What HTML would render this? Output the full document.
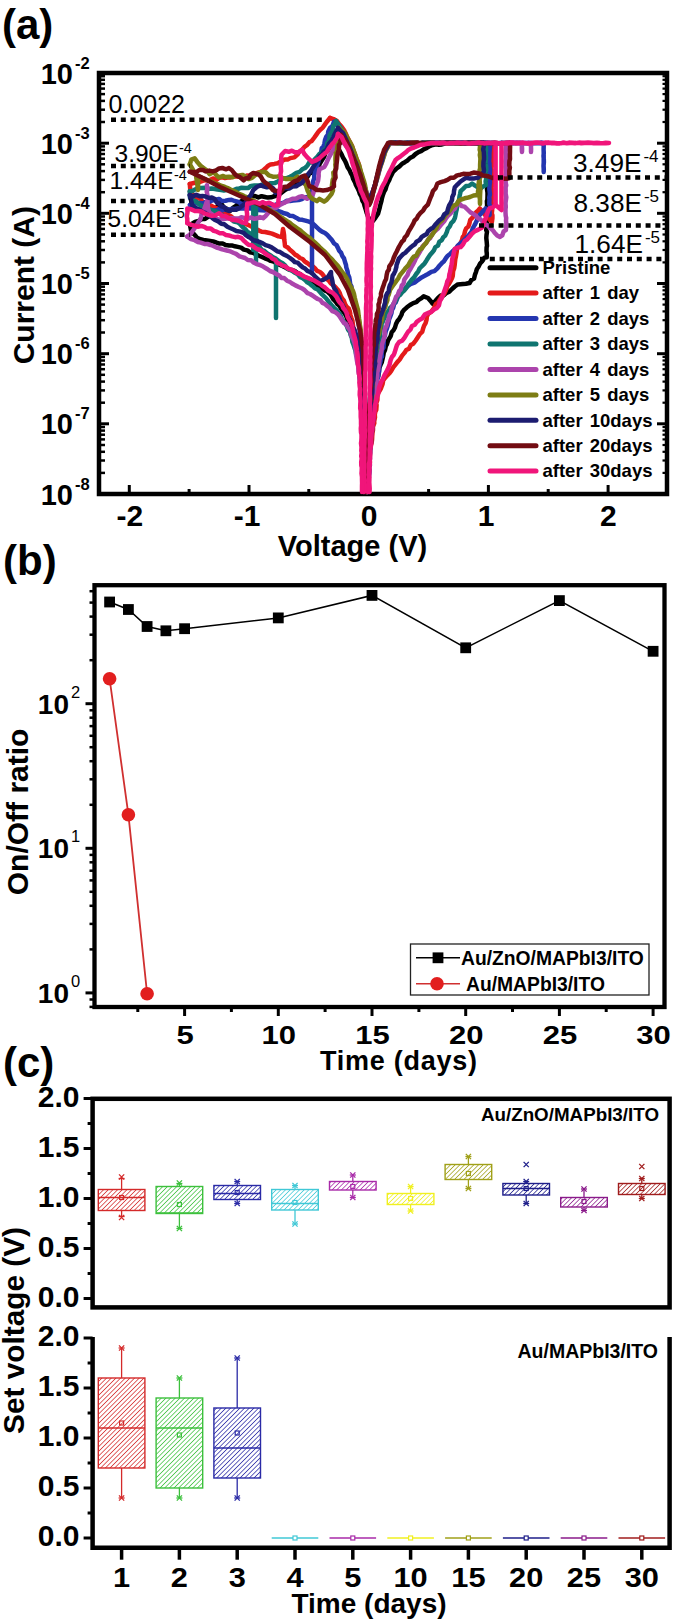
<!DOCTYPE html>
<html><head><meta charset="utf-8"><style>
html,body{margin:0;padding:0;background:#fff;width:675px;height:1622px;overflow:hidden;}
svg{display:block;}
</style></head><body>
<svg width="675" height="1622" viewBox="0 0 675 1622"><defs><pattern id="h0" patternUnits="userSpaceOnUse" width="3.3" height="3.3" patternTransform="rotate(45)"><line x1="0" y1="0" x2="0" y2="3.3" stroke="#d42a2a" stroke-width="1.45"/></pattern><pattern id="h1" patternUnits="userSpaceOnUse" width="3.3" height="3.3" patternTransform="rotate(45)"><line x1="0" y1="0" x2="0" y2="3.3" stroke="#3cc03c" stroke-width="1.45"/></pattern><pattern id="h2" patternUnits="userSpaceOnUse" width="3.3" height="3.3" patternTransform="rotate(45)"><line x1="0" y1="0" x2="0" y2="3.3" stroke="#2a2aa6" stroke-width="1.45"/></pattern><pattern id="h3" patternUnits="userSpaceOnUse" width="3.3" height="3.3" patternTransform="rotate(45)"><line x1="0" y1="0" x2="0" y2="3.3" stroke="#40c8d6" stroke-width="1.45"/></pattern><pattern id="h4" patternUnits="userSpaceOnUse" width="3.3" height="3.3" patternTransform="rotate(45)"><line x1="0" y1="0" x2="0" y2="3.3" stroke="#a82aa8" stroke-width="1.45"/></pattern><pattern id="h5" patternUnits="userSpaceOnUse" width="3.3" height="3.3" patternTransform="rotate(45)"><line x1="0" y1="0" x2="0" y2="3.3" stroke="#f0f020" stroke-width="1.45"/></pattern><pattern id="h6" patternUnits="userSpaceOnUse" width="3.3" height="3.3" patternTransform="rotate(45)"><line x1="0" y1="0" x2="0" y2="3.3" stroke="#a0a018" stroke-width="1.45"/></pattern><pattern id="h7" patternUnits="userSpaceOnUse" width="3.3" height="3.3" patternTransform="rotate(45)"><line x1="0" y1="0" x2="0" y2="3.3" stroke="#1e1e8a" stroke-width="1.45"/></pattern><pattern id="h8" patternUnits="userSpaceOnUse" width="3.3" height="3.3" patternTransform="rotate(45)"><line x1="0" y1="0" x2="0" y2="3.3" stroke="#8a1a8a" stroke-width="1.45"/></pattern><pattern id="h9" patternUnits="userSpaceOnUse" width="3.3" height="3.3" patternTransform="rotate(45)"><line x1="0" y1="0" x2="0" y2="3.3" stroke="#a01c1c" stroke-width="1.45"/></pattern></defs><rect width="675" height="1622" fill="#fff"/><text x="2.0" y="39.0" font-family="Liberation Sans" font-weight="bold" font-size="42" text-anchor="start" fill="#000" >(a)</text>
<rect x="99" y="73" width="568" height="421" fill="none" stroke="#000" stroke-width="4.5"/>
<line x1="99.0" y1="494.0" x2="109.0" y2="494.0" stroke="#000" stroke-width="3" />
<line x1="667.0" y1="494.0" x2="657.0" y2="494.0" stroke="#000" stroke-width="3" />
<text x="73.0" y="504.5" font-family="Liberation Sans" font-weight="bold" font-size="29" text-anchor="end" fill="#000" >10</text>
<text x="75.0" y="489.5" font-family="Liberation Sans" font-weight="bold" font-size="16.5" text-anchor="start" fill="#000" >-8</text>
<line x1="99.0" y1="472.9" x2="105.0" y2="472.9" stroke="#000" stroke-width="2.5" />
<line x1="667.0" y1="472.9" x2="662.5" y2="472.9" stroke="#000" stroke-width="2.2" />
<line x1="99.0" y1="460.5" x2="105.0" y2="460.5" stroke="#000" stroke-width="2.5" />
<line x1="667.0" y1="460.5" x2="662.5" y2="460.5" stroke="#000" stroke-width="2.2" />
<line x1="99.0" y1="451.8" x2="105.0" y2="451.8" stroke="#000" stroke-width="2.5" />
<line x1="667.0" y1="451.8" x2="662.5" y2="451.8" stroke="#000" stroke-width="2.2" />
<line x1="99.0" y1="445.0" x2="105.0" y2="445.0" stroke="#000" stroke-width="2.5" />
<line x1="667.0" y1="445.0" x2="662.5" y2="445.0" stroke="#000" stroke-width="2.2" />
<line x1="99.0" y1="439.4" x2="105.0" y2="439.4" stroke="#000" stroke-width="2.5" />
<line x1="667.0" y1="439.4" x2="662.5" y2="439.4" stroke="#000" stroke-width="2.2" />
<line x1="99.0" y1="434.7" x2="105.0" y2="434.7" stroke="#000" stroke-width="2.5" />
<line x1="667.0" y1="434.7" x2="662.5" y2="434.7" stroke="#000" stroke-width="2.2" />
<line x1="99.0" y1="430.6" x2="105.0" y2="430.6" stroke="#000" stroke-width="2.5" />
<line x1="667.0" y1="430.6" x2="662.5" y2="430.6" stroke="#000" stroke-width="2.2" />
<line x1="99.0" y1="427.0" x2="105.0" y2="427.0" stroke="#000" stroke-width="2.5" />
<line x1="667.0" y1="427.0" x2="662.5" y2="427.0" stroke="#000" stroke-width="2.2" />
<line x1="99.0" y1="423.8" x2="109.0" y2="423.8" stroke="#000" stroke-width="3" />
<line x1="667.0" y1="423.8" x2="657.0" y2="423.8" stroke="#000" stroke-width="3" />
<text x="73.0" y="434.3" font-family="Liberation Sans" font-weight="bold" font-size="29" text-anchor="end" fill="#000" >10</text>
<text x="75.0" y="419.3" font-family="Liberation Sans" font-weight="bold" font-size="16.5" text-anchor="start" fill="#000" >-7</text>
<line x1="99.0" y1="402.7" x2="105.0" y2="402.7" stroke="#000" stroke-width="2.5" />
<line x1="667.0" y1="402.7" x2="662.5" y2="402.7" stroke="#000" stroke-width="2.2" />
<line x1="99.0" y1="390.4" x2="105.0" y2="390.4" stroke="#000" stroke-width="2.5" />
<line x1="667.0" y1="390.4" x2="662.5" y2="390.4" stroke="#000" stroke-width="2.2" />
<line x1="99.0" y1="381.6" x2="105.0" y2="381.6" stroke="#000" stroke-width="2.5" />
<line x1="667.0" y1="381.6" x2="662.5" y2="381.6" stroke="#000" stroke-width="2.2" />
<line x1="99.0" y1="374.8" x2="105.0" y2="374.8" stroke="#000" stroke-width="2.5" />
<line x1="667.0" y1="374.8" x2="662.5" y2="374.8" stroke="#000" stroke-width="2.2" />
<line x1="99.0" y1="369.2" x2="105.0" y2="369.2" stroke="#000" stroke-width="2.5" />
<line x1="667.0" y1="369.2" x2="662.5" y2="369.2" stroke="#000" stroke-width="2.2" />
<line x1="99.0" y1="364.5" x2="105.0" y2="364.5" stroke="#000" stroke-width="2.5" />
<line x1="667.0" y1="364.5" x2="662.5" y2="364.5" stroke="#000" stroke-width="2.2" />
<line x1="99.0" y1="360.5" x2="105.0" y2="360.5" stroke="#000" stroke-width="2.5" />
<line x1="667.0" y1="360.5" x2="662.5" y2="360.5" stroke="#000" stroke-width="2.2" />
<line x1="99.0" y1="356.9" x2="105.0" y2="356.9" stroke="#000" stroke-width="2.5" />
<line x1="667.0" y1="356.9" x2="662.5" y2="356.9" stroke="#000" stroke-width="2.2" />
<line x1="99.0" y1="353.7" x2="109.0" y2="353.7" stroke="#000" stroke-width="3" />
<line x1="667.0" y1="353.7" x2="657.0" y2="353.7" stroke="#000" stroke-width="3" />
<text x="73.0" y="364.2" font-family="Liberation Sans" font-weight="bold" font-size="29" text-anchor="end" fill="#000" >10</text>
<text x="75.0" y="349.2" font-family="Liberation Sans" font-weight="bold" font-size="16.5" text-anchor="start" fill="#000" >-6</text>
<line x1="99.0" y1="332.5" x2="105.0" y2="332.5" stroke="#000" stroke-width="2.5" />
<line x1="667.0" y1="332.5" x2="662.5" y2="332.5" stroke="#000" stroke-width="2.2" />
<line x1="99.0" y1="320.2" x2="105.0" y2="320.2" stroke="#000" stroke-width="2.5" />
<line x1="667.0" y1="320.2" x2="662.5" y2="320.2" stroke="#000" stroke-width="2.2" />
<line x1="99.0" y1="311.4" x2="105.0" y2="311.4" stroke="#000" stroke-width="2.5" />
<line x1="667.0" y1="311.4" x2="662.5" y2="311.4" stroke="#000" stroke-width="2.2" />
<line x1="99.0" y1="304.6" x2="105.0" y2="304.6" stroke="#000" stroke-width="2.5" />
<line x1="667.0" y1="304.6" x2="662.5" y2="304.6" stroke="#000" stroke-width="2.2" />
<line x1="99.0" y1="299.1" x2="105.0" y2="299.1" stroke="#000" stroke-width="2.5" />
<line x1="667.0" y1="299.1" x2="662.5" y2="299.1" stroke="#000" stroke-width="2.2" />
<line x1="99.0" y1="294.4" x2="105.0" y2="294.4" stroke="#000" stroke-width="2.5" />
<line x1="667.0" y1="294.4" x2="662.5" y2="294.4" stroke="#000" stroke-width="2.2" />
<line x1="99.0" y1="290.3" x2="105.0" y2="290.3" stroke="#000" stroke-width="2.5" />
<line x1="667.0" y1="290.3" x2="662.5" y2="290.3" stroke="#000" stroke-width="2.2" />
<line x1="99.0" y1="286.7" x2="105.0" y2="286.7" stroke="#000" stroke-width="2.5" />
<line x1="667.0" y1="286.7" x2="662.5" y2="286.7" stroke="#000" stroke-width="2.2" />
<line x1="99.0" y1="283.5" x2="109.0" y2="283.5" stroke="#000" stroke-width="3" />
<line x1="667.0" y1="283.5" x2="657.0" y2="283.5" stroke="#000" stroke-width="3" />
<text x="73.0" y="294.0" font-family="Liberation Sans" font-weight="bold" font-size="29" text-anchor="end" fill="#000" >10</text>
<text x="75.0" y="279.0" font-family="Liberation Sans" font-weight="bold" font-size="16.5" text-anchor="start" fill="#000" >-5</text>
<line x1="99.0" y1="262.4" x2="105.0" y2="262.4" stroke="#000" stroke-width="2.5" />
<line x1="667.0" y1="262.4" x2="662.5" y2="262.4" stroke="#000" stroke-width="2.2" />
<line x1="99.0" y1="250.0" x2="105.0" y2="250.0" stroke="#000" stroke-width="2.5" />
<line x1="667.0" y1="250.0" x2="662.5" y2="250.0" stroke="#000" stroke-width="2.2" />
<line x1="99.0" y1="241.3" x2="105.0" y2="241.3" stroke="#000" stroke-width="2.5" />
<line x1="667.0" y1="241.3" x2="662.5" y2="241.3" stroke="#000" stroke-width="2.2" />
<line x1="99.0" y1="234.5" x2="105.0" y2="234.5" stroke="#000" stroke-width="2.5" />
<line x1="667.0" y1="234.5" x2="662.5" y2="234.5" stroke="#000" stroke-width="2.2" />
<line x1="99.0" y1="228.9" x2="105.0" y2="228.9" stroke="#000" stroke-width="2.5" />
<line x1="667.0" y1="228.9" x2="662.5" y2="228.9" stroke="#000" stroke-width="2.2" />
<line x1="99.0" y1="224.2" x2="105.0" y2="224.2" stroke="#000" stroke-width="2.5" />
<line x1="667.0" y1="224.2" x2="662.5" y2="224.2" stroke="#000" stroke-width="2.2" />
<line x1="99.0" y1="220.1" x2="105.0" y2="220.1" stroke="#000" stroke-width="2.5" />
<line x1="667.0" y1="220.1" x2="662.5" y2="220.1" stroke="#000" stroke-width="2.2" />
<line x1="99.0" y1="216.5" x2="105.0" y2="216.5" stroke="#000" stroke-width="2.5" />
<line x1="667.0" y1="216.5" x2="662.5" y2="216.5" stroke="#000" stroke-width="2.2" />
<line x1="99.0" y1="213.3" x2="109.0" y2="213.3" stroke="#000" stroke-width="3" />
<line x1="667.0" y1="213.3" x2="657.0" y2="213.3" stroke="#000" stroke-width="3" />
<text x="73.0" y="223.8" font-family="Liberation Sans" font-weight="bold" font-size="29" text-anchor="end" fill="#000" >10</text>
<text x="75.0" y="208.8" font-family="Liberation Sans" font-weight="bold" font-size="16.5" text-anchor="start" fill="#000" >-4</text>
<line x1="99.0" y1="192.2" x2="105.0" y2="192.2" stroke="#000" stroke-width="2.5" />
<line x1="667.0" y1="192.2" x2="662.5" y2="192.2" stroke="#000" stroke-width="2.2" />
<line x1="99.0" y1="179.9" x2="105.0" y2="179.9" stroke="#000" stroke-width="2.5" />
<line x1="667.0" y1="179.9" x2="662.5" y2="179.9" stroke="#000" stroke-width="2.2" />
<line x1="99.0" y1="171.1" x2="105.0" y2="171.1" stroke="#000" stroke-width="2.5" />
<line x1="667.0" y1="171.1" x2="662.5" y2="171.1" stroke="#000" stroke-width="2.2" />
<line x1="99.0" y1="164.3" x2="105.0" y2="164.3" stroke="#000" stroke-width="2.5" />
<line x1="667.0" y1="164.3" x2="662.5" y2="164.3" stroke="#000" stroke-width="2.2" />
<line x1="99.0" y1="158.7" x2="105.0" y2="158.7" stroke="#000" stroke-width="2.5" />
<line x1="667.0" y1="158.7" x2="662.5" y2="158.7" stroke="#000" stroke-width="2.2" />
<line x1="99.0" y1="154.0" x2="105.0" y2="154.0" stroke="#000" stroke-width="2.5" />
<line x1="667.0" y1="154.0" x2="662.5" y2="154.0" stroke="#000" stroke-width="2.2" />
<line x1="99.0" y1="150.0" x2="105.0" y2="150.0" stroke="#000" stroke-width="2.5" />
<line x1="667.0" y1="150.0" x2="662.5" y2="150.0" stroke="#000" stroke-width="2.2" />
<line x1="99.0" y1="146.4" x2="105.0" y2="146.4" stroke="#000" stroke-width="2.5" />
<line x1="667.0" y1="146.4" x2="662.5" y2="146.4" stroke="#000" stroke-width="2.2" />
<line x1="99.0" y1="143.2" x2="109.0" y2="143.2" stroke="#000" stroke-width="3" />
<line x1="667.0" y1="143.2" x2="657.0" y2="143.2" stroke="#000" stroke-width="3" />
<text x="73.0" y="153.7" font-family="Liberation Sans" font-weight="bold" font-size="29" text-anchor="end" fill="#000" >10</text>
<text x="75.0" y="138.7" font-family="Liberation Sans" font-weight="bold" font-size="16.5" text-anchor="start" fill="#000" >-3</text>
<line x1="99.0" y1="122.0" x2="105.0" y2="122.0" stroke="#000" stroke-width="2.5" />
<line x1="667.0" y1="122.0" x2="662.5" y2="122.0" stroke="#000" stroke-width="2.2" />
<line x1="99.0" y1="109.7" x2="105.0" y2="109.7" stroke="#000" stroke-width="2.5" />
<line x1="667.0" y1="109.7" x2="662.5" y2="109.7" stroke="#000" stroke-width="2.2" />
<line x1="99.0" y1="100.9" x2="105.0" y2="100.9" stroke="#000" stroke-width="2.5" />
<line x1="667.0" y1="100.9" x2="662.5" y2="100.9" stroke="#000" stroke-width="2.2" />
<line x1="99.0" y1="94.1" x2="105.0" y2="94.1" stroke="#000" stroke-width="2.5" />
<line x1="667.0" y1="94.1" x2="662.5" y2="94.1" stroke="#000" stroke-width="2.2" />
<line x1="99.0" y1="88.6" x2="105.0" y2="88.6" stroke="#000" stroke-width="2.5" />
<line x1="667.0" y1="88.6" x2="662.5" y2="88.6" stroke="#000" stroke-width="2.2" />
<line x1="99.0" y1="83.9" x2="105.0" y2="83.9" stroke="#000" stroke-width="2.5" />
<line x1="667.0" y1="83.9" x2="662.5" y2="83.9" stroke="#000" stroke-width="2.2" />
<line x1="99.0" y1="79.8" x2="105.0" y2="79.8" stroke="#000" stroke-width="2.5" />
<line x1="667.0" y1="79.8" x2="662.5" y2="79.8" stroke="#000" stroke-width="2.2" />
<line x1="99.0" y1="76.2" x2="105.0" y2="76.2" stroke="#000" stroke-width="2.5" />
<line x1="667.0" y1="76.2" x2="662.5" y2="76.2" stroke="#000" stroke-width="2.2" />
<line x1="99.0" y1="73.0" x2="109.0" y2="73.0" stroke="#000" stroke-width="3" />
<line x1="667.0" y1="73.0" x2="657.0" y2="73.0" stroke="#000" stroke-width="3" />
<text x="73.0" y="83.5" font-family="Liberation Sans" font-weight="bold" font-size="29" text-anchor="end" fill="#000" >10</text>
<text x="75.0" y="68.5" font-family="Liberation Sans" font-weight="bold" font-size="16.5" text-anchor="start" fill="#000" >-2</text>
<line x1="129.3" y1="494.0" x2="129.3" y2="485.0" stroke="#000" stroke-width="3" />
<line x1="189.1" y1="494.0" x2="189.1" y2="489.0" stroke="#000" stroke-width="3" />
<line x1="249.0" y1="494.0" x2="249.0" y2="485.0" stroke="#000" stroke-width="3" />
<line x1="308.8" y1="494.0" x2="308.8" y2="489.0" stroke="#000" stroke-width="3" />
<line x1="368.7" y1="494.0" x2="368.7" y2="485.0" stroke="#000" stroke-width="3" />
<line x1="428.6" y1="494.0" x2="428.6" y2="489.0" stroke="#000" stroke-width="3" />
<line x1="488.4" y1="494.0" x2="488.4" y2="485.0" stroke="#000" stroke-width="3" />
<line x1="548.2" y1="494.0" x2="548.2" y2="489.0" stroke="#000" stroke-width="3" />
<line x1="608.1" y1="494.0" x2="608.1" y2="485.0" stroke="#000" stroke-width="3" />
<text x="129.8" y="526.0" font-family="Liberation Sans" font-weight="bold" font-size="30" text-anchor="middle" fill="#000" >-2</text>
<text x="247.0" y="526.0" font-family="Liberation Sans" font-weight="bold" font-size="30" text-anchor="middle" fill="#000" >-1</text>
<text x="369.0" y="526.0" font-family="Liberation Sans" font-weight="bold" font-size="30" text-anchor="middle" fill="#000" >0</text>
<text x="486.2" y="526.0" font-family="Liberation Sans" font-weight="bold" font-size="30" text-anchor="middle" fill="#000" >1</text>
<text x="608.4" y="526.0" font-family="Liberation Sans" font-weight="bold" font-size="30" text-anchor="middle" fill="#000" >2</text>
<text x="352.5" y="555.5" font-family="Liberation Sans" font-weight="bold" font-size="29" text-anchor="middle" fill="#000" >Voltage (V)</text>
<text x="34.0" y="285.2" font-family="Liberation Sans" font-weight="bold" font-size="30" text-anchor="middle" fill="#000" transform="rotate(-90 34 285.2)">Current (A)</text>
<text x="3.0" y="575.0" font-family="Liberation Sans" font-weight="bold" font-size="42" text-anchor="start" fill="#000" >(b)</text>
<rect x="94.5" y="585.2" width="570.0" height="421.79999999999995" fill="none" stroke="#000" stroke-width="4.3"/>
<line x1="94.5" y1="992.9" x2="85.5" y2="992.9" stroke="#000" stroke-width="3" />
<text x="69.0" y="1002.9" font-family="Liberation Sans" font-weight="bold" font-size="28" text-anchor="end" fill="#000" >10</text>
<text x="71.0" y="986.9" font-family="Liberation Sans" font-size="16.5" text-anchor="start" fill="#000" >0</text>
<line x1="94.5" y1="848.3" x2="85.5" y2="848.3" stroke="#000" stroke-width="3" />
<text x="69.0" y="858.3" font-family="Liberation Sans" font-weight="bold" font-size="28" text-anchor="end" fill="#000" >10</text>
<text x="71.0" y="842.3" font-family="Liberation Sans" font-size="16.5" text-anchor="start" fill="#000" >1</text>
<line x1="94.5" y1="703.7" x2="85.5" y2="703.7" stroke="#000" stroke-width="3" />
<text x="69.0" y="713.7" font-family="Liberation Sans" font-weight="bold" font-size="28" text-anchor="end" fill="#000" >10</text>
<text x="71.0" y="697.7" font-family="Liberation Sans" font-size="16.5" text-anchor="start" fill="#000" >2</text>
<line x1="94.5" y1="1006.9" x2="89.5" y2="1006.9" stroke="#000" stroke-width="2.5" />
<line x1="94.5" y1="999.5" x2="89.5" y2="999.5" stroke="#000" stroke-width="2.5" />
<line x1="94.5" y1="949.4" x2="89.5" y2="949.4" stroke="#000" stroke-width="2.5" />
<line x1="94.5" y1="923.9" x2="89.5" y2="923.9" stroke="#000" stroke-width="2.5" />
<line x1="94.5" y1="905.8" x2="89.5" y2="905.8" stroke="#000" stroke-width="2.5" />
<line x1="94.5" y1="891.8" x2="89.5" y2="891.8" stroke="#000" stroke-width="2.5" />
<line x1="94.5" y1="880.4" x2="89.5" y2="880.4" stroke="#000" stroke-width="2.5" />
<line x1="94.5" y1="870.7" x2="89.5" y2="870.7" stroke="#000" stroke-width="2.5" />
<line x1="94.5" y1="862.3" x2="89.5" y2="862.3" stroke="#000" stroke-width="2.5" />
<line x1="94.5" y1="854.9" x2="89.5" y2="854.9" stroke="#000" stroke-width="2.5" />
<line x1="94.5" y1="804.8" x2="89.5" y2="804.8" stroke="#000" stroke-width="2.5" />
<line x1="94.5" y1="779.3" x2="89.5" y2="779.3" stroke="#000" stroke-width="2.5" />
<line x1="94.5" y1="761.2" x2="89.5" y2="761.2" stroke="#000" stroke-width="2.5" />
<line x1="94.5" y1="747.2" x2="89.5" y2="747.2" stroke="#000" stroke-width="2.5" />
<line x1="94.5" y1="735.8" x2="89.5" y2="735.8" stroke="#000" stroke-width="2.5" />
<line x1="94.5" y1="726.1" x2="89.5" y2="726.1" stroke="#000" stroke-width="2.5" />
<line x1="94.5" y1="717.7" x2="89.5" y2="717.7" stroke="#000" stroke-width="2.5" />
<line x1="94.5" y1="710.3" x2="89.5" y2="710.3" stroke="#000" stroke-width="2.5" />
<line x1="94.5" y1="660.2" x2="89.5" y2="660.2" stroke="#000" stroke-width="2.5" />
<line x1="94.5" y1="634.7" x2="89.5" y2="634.7" stroke="#000" stroke-width="2.5" />
<line x1="94.5" y1="616.6" x2="89.5" y2="616.6" stroke="#000" stroke-width="2.5" />
<line x1="94.5" y1="602.6" x2="89.5" y2="602.6" stroke="#000" stroke-width="2.5" />
<line x1="94.5" y1="591.2" x2="89.5" y2="591.2" stroke="#000" stroke-width="2.5" />
<line x1="137.8" y1="1007.0" x2="137.8" y2="1012.0" stroke="#000" stroke-width="3" />
<line x1="184.6" y1="1007.0" x2="184.6" y2="1016.0" stroke="#000" stroke-width="3" />
<line x1="231.4" y1="1007.0" x2="231.4" y2="1012.0" stroke="#000" stroke-width="3" />
<line x1="278.3" y1="1007.0" x2="278.3" y2="1016.0" stroke="#000" stroke-width="3" />
<line x1="325.1" y1="1007.0" x2="325.1" y2="1012.0" stroke="#000" stroke-width="3" />
<line x1="372.0" y1="1007.0" x2="372.0" y2="1016.0" stroke="#000" stroke-width="3" />
<line x1="418.9" y1="1007.0" x2="418.9" y2="1012.0" stroke="#000" stroke-width="3" />
<line x1="465.7" y1="1007.0" x2="465.7" y2="1016.0" stroke="#000" stroke-width="3" />
<line x1="512.5" y1="1007.0" x2="512.5" y2="1012.0" stroke="#000" stroke-width="3" />
<line x1="559.4" y1="1007.0" x2="559.4" y2="1016.0" stroke="#000" stroke-width="3" />
<line x1="606.2" y1="1007.0" x2="606.2" y2="1012.0" stroke="#000" stroke-width="3" />
<line x1="653.1" y1="1007.0" x2="653.1" y2="1016.0" stroke="#000" stroke-width="3" />
<text transform="translate(185.1 1044.0) scale(1.17 1)" font-family="Liberation Sans" font-weight="bold" font-size="26.5" text-anchor="middle">5</text>
<text transform="translate(278.8 1044.0) scale(1.17 1)" font-family="Liberation Sans" font-weight="bold" font-size="26.5" text-anchor="middle">10</text>
<text transform="translate(372.5 1044.0) scale(1.17 1)" font-family="Liberation Sans" font-weight="bold" font-size="26.5" text-anchor="middle">15</text>
<text transform="translate(466.2 1044.0) scale(1.17 1)" font-family="Liberation Sans" font-weight="bold" font-size="26.5" text-anchor="middle">20</text>
<text transform="translate(559.9 1044.0) scale(1.17 1)" font-family="Liberation Sans" font-weight="bold" font-size="26.5" text-anchor="middle">25</text>
<text transform="translate(653.6 1044.0) scale(1.17 1)" font-family="Liberation Sans" font-weight="bold" font-size="26.5" text-anchor="middle">30</text>
<text x="320.0" y="1070.0" font-family="Liberation Sans" font-weight="bold" font-size="27" text-anchor="start" fill="#000" textLength="157" lengthAdjust="spacing">Time (days)</text>
<text x="27.6" y="811.9" font-family="Liberation Sans" font-weight="bold" font-size="30" text-anchor="middle" fill="#000" transform="rotate(-90 27.6 811.9)">On/Off ratio</text>
<polyline points="109.6,602.0 128.4,609.5 147.1,626.5 165.9,630.8 184.6,628.7 278.3,617.9 372.0,595.4 465.7,647.8 559.4,600.6 653.1,651.3" fill="none" stroke="#000" stroke-width="1.5"/>
<rect x="104.2" y="596.6" width="10.8" height="10.8" fill="#000"/>
<rect x="123.0" y="604.1" width="10.8" height="10.8" fill="#000"/>
<rect x="141.7" y="621.1" width="10.8" height="10.8" fill="#000"/>
<rect x="160.5" y="625.4" width="10.8" height="10.8" fill="#000"/>
<rect x="179.2" y="623.3" width="10.8" height="10.8" fill="#000"/>
<rect x="272.9" y="612.5" width="10.8" height="10.8" fill="#000"/>
<rect x="366.6" y="590.0" width="10.8" height="10.8" fill="#000"/>
<rect x="460.3" y="642.4" width="10.8" height="10.8" fill="#000"/>
<rect x="554.0" y="595.2" width="10.8" height="10.8" fill="#000"/>
<rect x="647.7" y="645.9" width="10.8" height="10.8" fill="#000"/>
<polyline points="109.6,678.8 128.4,814.7 147.1,993.7" fill="none" stroke="#d03030" stroke-width="1.8"/>
<circle cx="109.6" cy="678.8" r="6.8" fill="#e21f1f"/>
<circle cx="128.4" cy="814.7" r="6.8" fill="#e21f1f"/>
<circle cx="147.1" cy="993.7" r="6.8" fill="#e21f1f"/>
<rect x="410.5" y="944" width="238.5" height="51" fill="#fff" stroke="#222" stroke-width="1.3"/>
<line x1="416.0" y1="957.8" x2="460.0" y2="957.8" stroke="#000" stroke-width="1.5" />
<rect x="432.6" y="952.4" width="10.8" height="10.8" fill="#000"/>
<text x="461.0" y="965.0" font-family="Liberation Sans" font-weight="bold" font-size="19.3" text-anchor="start" fill="#000" >Au/ZnO/MAPbI3/ITO</text>
<line x1="416.0" y1="983.8" x2="460.0" y2="983.8" stroke="#d03030" stroke-width="1.5" />
<circle cx="437" cy="983.8" r="6.8" fill="#e21f1f"/>
<text x="466.0" y="991.0" font-family="Liberation Sans" font-weight="bold" font-size="19.3" text-anchor="start" fill="#000" >Au/MAPbI3/ITO</text>
<text x="3.0" y="1077.0" font-family="Liberation Sans" font-weight="bold" font-size="42" text-anchor="start" fill="#000" >(c)</text>
<rect x="92.6" y="1098.8" width="577.0" height="208.60000000000014" fill="none" stroke="#000" stroke-width="4.5"/>
<polyline points="92.6,1337 92.6,1547.7 669.6,1547.7 669.6,1337" fill="none" stroke="#000" stroke-width="4.5"/>
<line x1="92.6" y1="1298.5" x2="83.6" y2="1298.5" stroke="#000" stroke-width="3" />
<line x1="92.6" y1="1273.5" x2="87.6" y2="1273.5" stroke="#000" stroke-width="3" />
<line x1="92.6" y1="1248.5" x2="83.6" y2="1248.5" stroke="#000" stroke-width="3" />
<line x1="92.6" y1="1223.5" x2="87.6" y2="1223.5" stroke="#000" stroke-width="3" />
<line x1="92.6" y1="1198.5" x2="83.6" y2="1198.5" stroke="#000" stroke-width="3" />
<line x1="92.6" y1="1173.5" x2="87.6" y2="1173.5" stroke="#000" stroke-width="3" />
<line x1="92.6" y1="1148.5" x2="83.6" y2="1148.5" stroke="#000" stroke-width="3" />
<line x1="92.6" y1="1123.5" x2="87.6" y2="1123.5" stroke="#000" stroke-width="3" />
<line x1="92.6" y1="1098.5" x2="83.6" y2="1098.5" stroke="#000" stroke-width="3" />
<text x="79.5" y="1306.5" font-family="Liberation Sans" font-weight="bold" font-size="30" text-anchor="end" fill="#000" >0.0</text>
<text x="79.5" y="1256.5" font-family="Liberation Sans" font-weight="bold" font-size="30" text-anchor="end" fill="#000" >0.5</text>
<text x="79.5" y="1206.5" font-family="Liberation Sans" font-weight="bold" font-size="30" text-anchor="end" fill="#000" >1.0</text>
<text x="79.5" y="1156.5" font-family="Liberation Sans" font-weight="bold" font-size="30" text-anchor="end" fill="#000" >1.5</text>
<text x="79.5" y="1106.5" font-family="Liberation Sans" font-weight="bold" font-size="30" text-anchor="end" fill="#000" >2.0</text>
<line x1="92.6" y1="1538.0" x2="83.6" y2="1538.0" stroke="#000" stroke-width="3" />
<line x1="92.6" y1="1513.0" x2="87.6" y2="1513.0" stroke="#000" stroke-width="3" />
<line x1="92.6" y1="1488.0" x2="83.6" y2="1488.0" stroke="#000" stroke-width="3" />
<line x1="92.6" y1="1463.0" x2="87.6" y2="1463.0" stroke="#000" stroke-width="3" />
<line x1="92.6" y1="1438.0" x2="83.6" y2="1438.0" stroke="#000" stroke-width="3" />
<line x1="92.6" y1="1413.0" x2="87.6" y2="1413.0" stroke="#000" stroke-width="3" />
<line x1="92.6" y1="1388.0" x2="83.6" y2="1388.0" stroke="#000" stroke-width="3" />
<line x1="92.6" y1="1363.0" x2="87.6" y2="1363.0" stroke="#000" stroke-width="3" />
<line x1="92.6" y1="1338.0" x2="83.6" y2="1338.0" stroke="#000" stroke-width="3" />
<text x="79.5" y="1546.0" font-family="Liberation Sans" font-weight="bold" font-size="30" text-anchor="end" fill="#000" >0.0</text>
<text x="79.5" y="1496.0" font-family="Liberation Sans" font-weight="bold" font-size="30" text-anchor="end" fill="#000" >0.5</text>
<text x="79.5" y="1446.0" font-family="Liberation Sans" font-weight="bold" font-size="30" text-anchor="end" fill="#000" >1.0</text>
<text x="79.5" y="1396.0" font-family="Liberation Sans" font-weight="bold" font-size="30" text-anchor="end" fill="#000" >1.5</text>
<text x="79.5" y="1346.0" font-family="Liberation Sans" font-weight="bold" font-size="30" text-anchor="end" fill="#000" >2.0</text>
<line x1="121.6" y1="1547.7" x2="121.6" y2="1559.7" stroke="#000" stroke-width="3.5" />
<text transform="translate(121.6 1586.5) scale(1.12 1)" font-family="Liberation Sans" font-weight="bold" font-size="27.5" text-anchor="middle">1</text>
<line x1="179.4" y1="1547.7" x2="179.4" y2="1559.7" stroke="#000" stroke-width="3.5" />
<text transform="translate(179.4 1586.5) scale(1.12 1)" font-family="Liberation Sans" font-weight="bold" font-size="27.5" text-anchor="middle">2</text>
<line x1="237.2" y1="1547.7" x2="237.2" y2="1559.7" stroke="#000" stroke-width="3.5" />
<text transform="translate(237.2 1586.5) scale(1.12 1)" font-family="Liberation Sans" font-weight="bold" font-size="27.5" text-anchor="middle">3</text>
<line x1="295.0" y1="1547.7" x2="295.0" y2="1559.7" stroke="#000" stroke-width="3.5" />
<text transform="translate(295.0 1586.5) scale(1.12 1)" font-family="Liberation Sans" font-weight="bold" font-size="27.5" text-anchor="middle">4</text>
<line x1="352.8" y1="1547.7" x2="352.8" y2="1559.7" stroke="#000" stroke-width="3.5" />
<text transform="translate(352.8 1586.5) scale(1.12 1)" font-family="Liberation Sans" font-weight="bold" font-size="27.5" text-anchor="middle">5</text>
<line x1="410.6" y1="1547.7" x2="410.6" y2="1559.7" stroke="#000" stroke-width="3.5" />
<text transform="translate(410.6 1586.5) scale(1.12 1)" font-family="Liberation Sans" font-weight="bold" font-size="27.5" text-anchor="middle">10</text>
<line x1="468.4" y1="1547.7" x2="468.4" y2="1559.7" stroke="#000" stroke-width="3.5" />
<text transform="translate(468.4 1586.5) scale(1.12 1)" font-family="Liberation Sans" font-weight="bold" font-size="27.5" text-anchor="middle">15</text>
<line x1="526.2" y1="1547.7" x2="526.2" y2="1559.7" stroke="#000" stroke-width="3.5" />
<text transform="translate(526.2 1586.5) scale(1.12 1)" font-family="Liberation Sans" font-weight="bold" font-size="27.5" text-anchor="middle">20</text>
<line x1="584.0" y1="1547.7" x2="584.0" y2="1559.7" stroke="#000" stroke-width="3.5" />
<text transform="translate(584.0 1586.5) scale(1.12 1)" font-family="Liberation Sans" font-weight="bold" font-size="27.5" text-anchor="middle">25</text>
<line x1="641.8" y1="1547.7" x2="641.8" y2="1559.7" stroke="#000" stroke-width="3.5" />
<text transform="translate(641.8 1586.5) scale(1.12 1)" font-family="Liberation Sans" font-weight="bold" font-size="27.5" text-anchor="middle">30</text>
<text x="369.0" y="1613.3" font-family="Liberation Sans" font-weight="bold" font-size="28" text-anchor="middle" fill="#000" >Time (days)</text>
<text x="24.0" y="1330.5" font-family="Liberation Sans" font-weight="bold" font-size="29.8" text-anchor="middle" fill="#000" transform="rotate(-90 24 1330.5)">Set voltage (V)</text>
<text x="659.0" y="1121.0" font-family="Liberation Sans" font-weight="bold" font-size="18.8" text-anchor="end" fill="#000" >Au/ZnO/MAPbI3/ITO</text>
<text x="658.0" y="1357.6" font-family="Liberation Sans" font-weight="bold" font-size="19.5" text-anchor="end" fill="#000" >Au/MAPbI3/ITO</text>
<line x1="121.6" y1="1178.5" x2="121.6" y2="1189.5" stroke="#d42a2a" stroke-width="1.3" />
<line x1="121.6" y1="1210.5" x2="121.6" y2="1216.5" stroke="#d42a2a" stroke-width="1.3" />
<line x1="118.6" y1="1178.5" x2="124.6" y2="1178.5" stroke="#d42a2a" stroke-width="1.3" />
<line x1="118.6" y1="1216.5" x2="124.6" y2="1216.5" stroke="#d42a2a" stroke-width="1.3" />
<rect x="98.3" y="1189.5" width="46.6" height="21.0" fill="url(#h0)" stroke="#d42a2a" stroke-width="1.4"/>
<line x1="98.3" y1="1197.5" x2="144.9" y2="1197.5" stroke="#d42a2a" stroke-width="1.4" />
<rect x="119.6" y="1195.5" width="4" height="4" fill="none" stroke="#d42a2a" stroke-width="1.2"/>
<path d="M119.0,1174.4L124.2,1179.6M124.2,1174.4L119.0,1179.6" stroke="#d42a2a" stroke-width="1.3"/>
<path d="M119.0,1214.9L124.2,1220.1M124.2,1214.9L119.0,1220.1" stroke="#d42a2a" stroke-width="1.3"/>
<line x1="179.4" y1="1183.5" x2="179.4" y2="1186.5" stroke="#3cc03c" stroke-width="1.3" />
<line x1="179.4" y1="1213.5" x2="179.4" y2="1228.5" stroke="#3cc03c" stroke-width="1.3" />
<line x1="176.4" y1="1183.5" x2="182.4" y2="1183.5" stroke="#3cc03c" stroke-width="1.3" />
<line x1="176.4" y1="1228.5" x2="182.4" y2="1228.5" stroke="#3cc03c" stroke-width="1.3" />
<rect x="156.1" y="1186.5" width="46.6" height="27.0" fill="url(#h1)" stroke="#3cc03c" stroke-width="1.4"/>
<line x1="156.1" y1="1213.0" x2="202.7" y2="1213.0" stroke="#3cc03c" stroke-width="1.4" />
<rect x="177.4" y="1202.5" width="4" height="4" fill="none" stroke="#3cc03c" stroke-width="1.2"/>
<path d="M176.8,1180.4L182.0,1185.6M182.0,1180.4L176.8,1185.6" stroke="#3cc03c" stroke-width="1.3"/>
<path d="M176.8,1225.9L182.0,1231.1M182.0,1225.9L176.8,1231.1" stroke="#3cc03c" stroke-width="1.3"/>
<line x1="237.2" y1="1181.5" x2="237.2" y2="1185.5" stroke="#2a2aa6" stroke-width="1.3" />
<line x1="237.2" y1="1199.5" x2="237.2" y2="1203.5" stroke="#2a2aa6" stroke-width="1.3" />
<line x1="234.2" y1="1181.5" x2="240.2" y2="1181.5" stroke="#2a2aa6" stroke-width="1.3" />
<line x1="234.2" y1="1203.5" x2="240.2" y2="1203.5" stroke="#2a2aa6" stroke-width="1.3" />
<rect x="213.9" y="1185.5" width="46.6" height="14.0" fill="url(#h2)" stroke="#2a2aa6" stroke-width="1.4"/>
<line x1="213.9" y1="1193.5" x2="260.5" y2="1193.5" stroke="#2a2aa6" stroke-width="1.4" />
<rect x="235.2" y="1190.5" width="4" height="4" fill="none" stroke="#2a2aa6" stroke-width="1.2"/>
<path d="M234.6,1178.9L239.8,1184.1M239.8,1178.9L234.6,1184.1" stroke="#2a2aa6" stroke-width="1.3"/>
<path d="M234.6,1200.9L239.8,1206.1M239.8,1200.9L234.6,1206.1" stroke="#2a2aa6" stroke-width="1.3"/>
<line x1="295.0" y1="1185.5" x2="295.0" y2="1189.5" stroke="#40c8d6" stroke-width="1.3" />
<line x1="295.0" y1="1210.0" x2="295.0" y2="1224.0" stroke="#40c8d6" stroke-width="1.3" />
<line x1="292.0" y1="1185.5" x2="298.0" y2="1185.5" stroke="#40c8d6" stroke-width="1.3" />
<line x1="292.0" y1="1224.0" x2="298.0" y2="1224.0" stroke="#40c8d6" stroke-width="1.3" />
<rect x="271.7" y="1189.5" width="46.6" height="20.5" fill="url(#h3)" stroke="#40c8d6" stroke-width="1.4"/>
<line x1="271.7" y1="1203.5" x2="318.3" y2="1203.5" stroke="#40c8d6" stroke-width="1.4" />
<rect x="293.0" y="1200.5" width="4" height="4" fill="none" stroke="#40c8d6" stroke-width="1.2"/>
<path d="M292.4,1182.9L297.6,1188.1M297.6,1182.9L292.4,1188.1" stroke="#40c8d6" stroke-width="1.3"/>
<path d="M292.4,1221.4L297.6,1226.6M297.6,1221.4L292.4,1226.6" stroke="#40c8d6" stroke-width="1.3"/>
<line x1="352.8" y1="1175.0" x2="352.8" y2="1181.5" stroke="#a82aa8" stroke-width="1.3" />
<line x1="352.8" y1="1190.0" x2="352.8" y2="1197.5" stroke="#a82aa8" stroke-width="1.3" />
<line x1="349.8" y1="1175.0" x2="355.8" y2="1175.0" stroke="#a82aa8" stroke-width="1.3" />
<line x1="349.8" y1="1197.5" x2="355.8" y2="1197.5" stroke="#a82aa8" stroke-width="1.3" />
<rect x="329.5" y="1181.5" width="46.6" height="8.5" fill="url(#h4)" stroke="#a82aa8" stroke-width="1.4"/>
<rect x="350.8" y="1184.5" width="4" height="4" fill="none" stroke="#a82aa8" stroke-width="1.2"/>
<path d="M350.2,1172.4L355.4,1177.6M355.4,1172.4L350.2,1177.6" stroke="#a82aa8" stroke-width="1.3"/>
<path d="M350.2,1194.9L355.4,1200.1M355.4,1194.9L350.2,1200.1" stroke="#a82aa8" stroke-width="1.3"/>
<line x1="410.6" y1="1186.5" x2="410.6" y2="1193.5" stroke="#f0f020" stroke-width="1.3" />
<line x1="410.6" y1="1204.5" x2="410.6" y2="1211.0" stroke="#f0f020" stroke-width="1.3" />
<line x1="407.6" y1="1186.5" x2="413.6" y2="1186.5" stroke="#f0f020" stroke-width="1.3" />
<line x1="407.6" y1="1211.0" x2="413.6" y2="1211.0" stroke="#f0f020" stroke-width="1.3" />
<rect x="387.3" y="1193.5" width="46.6" height="11.0" fill="url(#h5)" stroke="#f0f020" stroke-width="1.4"/>
<rect x="408.6" y="1196.5" width="4" height="4" fill="none" stroke="#f0f020" stroke-width="1.2"/>
<path d="M408.0,1183.9L413.2,1189.1M413.2,1183.9L408.0,1189.1" stroke="#f0f020" stroke-width="1.3"/>
<path d="M408.0,1208.4L413.2,1213.6M413.2,1208.4L408.0,1213.6" stroke="#f0f020" stroke-width="1.3"/>
<line x1="468.4" y1="1156.5" x2="468.4" y2="1164.5" stroke="#a0a018" stroke-width="1.3" />
<line x1="468.4" y1="1179.5" x2="468.4" y2="1188.5" stroke="#a0a018" stroke-width="1.3" />
<line x1="465.4" y1="1156.5" x2="471.4" y2="1156.5" stroke="#a0a018" stroke-width="1.3" />
<line x1="465.4" y1="1188.5" x2="471.4" y2="1188.5" stroke="#a0a018" stroke-width="1.3" />
<rect x="445.1" y="1164.5" width="46.6" height="15.0" fill="url(#h6)" stroke="#a0a018" stroke-width="1.4"/>
<rect x="466.4" y="1171.5" width="4" height="4" fill="none" stroke="#a0a018" stroke-width="1.2"/>
<path d="M465.8,1153.9L471.0,1159.1M471.0,1153.9L465.8,1159.1" stroke="#a0a018" stroke-width="1.3"/>
<path d="M465.8,1185.9L471.0,1191.1M471.0,1185.9L465.8,1191.1" stroke="#a0a018" stroke-width="1.3"/>
<line x1="526.2" y1="1181.5" x2="526.2" y2="1183.5" stroke="#1e1e8a" stroke-width="1.3" />
<line x1="526.2" y1="1195.0" x2="526.2" y2="1203.5" stroke="#1e1e8a" stroke-width="1.3" />
<line x1="523.2" y1="1181.5" x2="529.2" y2="1181.5" stroke="#1e1e8a" stroke-width="1.3" />
<line x1="523.2" y1="1203.5" x2="529.2" y2="1203.5" stroke="#1e1e8a" stroke-width="1.3" />
<rect x="502.9" y="1183.5" width="46.6" height="11.5" fill="url(#h7)" stroke="#1e1e8a" stroke-width="1.4"/>
<line x1="502.9" y1="1188.5" x2="549.5" y2="1188.5" stroke="#1e1e8a" stroke-width="1.4" />
<rect x="524.2" y="1186.5" width="4" height="4" fill="none" stroke="#1e1e8a" stroke-width="1.2"/>
<path d="M523.6,1178.9L528.8,1184.1M528.8,1178.9L523.6,1184.1" stroke="#1e1e8a" stroke-width="1.3"/>
<path d="M523.6,1200.9L528.8,1206.1M528.8,1200.9L523.6,1206.1" stroke="#1e1e8a" stroke-width="1.3"/>
<path d="M523.6,1161.9L528.8,1167.1M528.8,1161.9L523.6,1167.1" stroke="#1e1e8a" stroke-width="1.3"/>
<line x1="584.0" y1="1189.0" x2="584.0" y2="1197.5" stroke="#8a1a8a" stroke-width="1.3" />
<line x1="584.0" y1="1207.0" x2="584.0" y2="1210.5" stroke="#8a1a8a" stroke-width="1.3" />
<line x1="581.0" y1="1189.0" x2="587.0" y2="1189.0" stroke="#8a1a8a" stroke-width="1.3" />
<line x1="581.0" y1="1210.5" x2="587.0" y2="1210.5" stroke="#8a1a8a" stroke-width="1.3" />
<rect x="560.7" y="1197.5" width="46.6" height="9.5" fill="url(#h8)" stroke="#8a1a8a" stroke-width="1.4"/>
<rect x="582.0" y="1199.5" width="4" height="4" fill="none" stroke="#8a1a8a" stroke-width="1.2"/>
<path d="M581.4,1186.4L586.6,1191.6M586.6,1186.4L581.4,1191.6" stroke="#8a1a8a" stroke-width="1.3"/>
<path d="M581.4,1207.9L586.6,1213.1M586.6,1207.9L581.4,1213.1" stroke="#8a1a8a" stroke-width="1.3"/>
<line x1="641.8" y1="1178.5" x2="641.8" y2="1183.5" stroke="#a01c1c" stroke-width="1.3" />
<line x1="641.8" y1="1194.5" x2="641.8" y2="1198.5" stroke="#a01c1c" stroke-width="1.3" />
<line x1="638.8" y1="1178.5" x2="644.8" y2="1178.5" stroke="#a01c1c" stroke-width="1.3" />
<line x1="638.8" y1="1198.5" x2="644.8" y2="1198.5" stroke="#a01c1c" stroke-width="1.3" />
<rect x="618.5" y="1183.5" width="46.6" height="11.0" fill="url(#h9)" stroke="#a01c1c" stroke-width="1.4"/>
<rect x="639.8" y="1186.5" width="4" height="4" fill="none" stroke="#a01c1c" stroke-width="1.2"/>
<path d="M639.2,1175.9L644.4,1181.1M644.4,1175.9L639.2,1181.1" stroke="#a01c1c" stroke-width="1.3"/>
<path d="M639.2,1195.9L644.4,1201.1M644.4,1195.9L639.2,1201.1" stroke="#a01c1c" stroke-width="1.3"/>
<path d="M639.2,1163.9L644.4,1169.1M644.4,1163.9L639.2,1169.1" stroke="#a01c1c" stroke-width="1.3"/>
<line x1="121.6" y1="1348.0" x2="121.6" y2="1378.0" stroke="#d42a2a" stroke-width="1.3" />
<line x1="121.6" y1="1468.0" x2="121.6" y2="1498.0" stroke="#d42a2a" stroke-width="1.3" />
<line x1="118.6" y1="1348.0" x2="124.6" y2="1348.0" stroke="#d42a2a" stroke-width="1.3" />
<line x1="118.6" y1="1498.0" x2="124.6" y2="1498.0" stroke="#d42a2a" stroke-width="1.3" />
<rect x="98.3" y="1378.0" width="46.6" height="90.0" fill="url(#h0)" stroke="#d42a2a" stroke-width="1.4"/>
<line x1="98.3" y1="1428.0" x2="144.9" y2="1428.0" stroke="#d42a2a" stroke-width="1.4" />
<rect x="119.6" y="1421.0" width="4" height="4" fill="none" stroke="#d42a2a" stroke-width="1.2"/>
<path d="M119.0,1345.4L124.2,1350.6M124.2,1345.4L119.0,1350.6" stroke="#d42a2a" stroke-width="1.3"/>
<path d="M119.0,1495.4L124.2,1500.6M124.2,1495.4L119.0,1500.6" stroke="#d42a2a" stroke-width="1.3"/>
<line x1="179.4" y1="1378.0" x2="179.4" y2="1398.0" stroke="#3cc03c" stroke-width="1.3" />
<line x1="179.4" y1="1488.0" x2="179.4" y2="1498.0" stroke="#3cc03c" stroke-width="1.3" />
<line x1="176.4" y1="1378.0" x2="182.4" y2="1378.0" stroke="#3cc03c" stroke-width="1.3" />
<line x1="176.4" y1="1498.0" x2="182.4" y2="1498.0" stroke="#3cc03c" stroke-width="1.3" />
<rect x="156.1" y="1398.0" width="46.6" height="90.0" fill="url(#h1)" stroke="#3cc03c" stroke-width="1.4"/>
<line x1="156.1" y1="1428.0" x2="202.7" y2="1428.0" stroke="#3cc03c" stroke-width="1.4" />
<rect x="177.4" y="1433.0" width="4" height="4" fill="none" stroke="#3cc03c" stroke-width="1.2"/>
<path d="M176.8,1375.4L182.0,1380.6M182.0,1375.4L176.8,1380.6" stroke="#3cc03c" stroke-width="1.3"/>
<path d="M176.8,1495.4L182.0,1500.6M182.0,1495.4L176.8,1500.6" stroke="#3cc03c" stroke-width="1.3"/>
<line x1="237.2" y1="1358.0" x2="237.2" y2="1408.0" stroke="#2a2aa6" stroke-width="1.3" />
<line x1="237.2" y1="1478.0" x2="237.2" y2="1498.0" stroke="#2a2aa6" stroke-width="1.3" />
<line x1="234.2" y1="1358.0" x2="240.2" y2="1358.0" stroke="#2a2aa6" stroke-width="1.3" />
<line x1="234.2" y1="1498.0" x2="240.2" y2="1498.0" stroke="#2a2aa6" stroke-width="1.3" />
<rect x="213.9" y="1408.0" width="46.6" height="70.0" fill="url(#h2)" stroke="#2a2aa6" stroke-width="1.4"/>
<line x1="213.9" y1="1448.0" x2="260.5" y2="1448.0" stroke="#2a2aa6" stroke-width="1.4" />
<rect x="235.2" y="1431.0" width="4" height="4" fill="none" stroke="#2a2aa6" stroke-width="1.2"/>
<path d="M234.6,1355.4L239.8,1360.6M239.8,1355.4L234.6,1360.6" stroke="#2a2aa6" stroke-width="1.3"/>
<path d="M234.6,1495.4L239.8,1500.6M239.8,1495.4L234.6,1500.6" stroke="#2a2aa6" stroke-width="1.3"/>
<line x1="271.7" y1="1538.0" x2="318.3" y2="1538.0" stroke="#40c8d6" stroke-width="1.4" />
<rect x="293.0" y="1536.0" width="4" height="4" fill="#fff" stroke="#40c8d6" stroke-width="1.2"/>
<line x1="329.5" y1="1538.0" x2="376.1" y2="1538.0" stroke="#a82aa8" stroke-width="1.4" />
<rect x="350.8" y="1536.0" width="4" height="4" fill="#fff" stroke="#a82aa8" stroke-width="1.2"/>
<line x1="387.3" y1="1538.0" x2="433.9" y2="1538.0" stroke="#f0f020" stroke-width="1.4" />
<rect x="408.6" y="1536.0" width="4" height="4" fill="#fff" stroke="#f0f020" stroke-width="1.2"/>
<line x1="445.1" y1="1538.0" x2="491.7" y2="1538.0" stroke="#a0a018" stroke-width="1.4" />
<rect x="466.4" y="1536.0" width="4" height="4" fill="#fff" stroke="#a0a018" stroke-width="1.2"/>
<line x1="502.9" y1="1538.0" x2="549.5" y2="1538.0" stroke="#1e1e8a" stroke-width="1.4" />
<rect x="524.2" y="1536.0" width="4" height="4" fill="#fff" stroke="#1e1e8a" stroke-width="1.2"/>
<line x1="560.7" y1="1538.0" x2="607.3" y2="1538.0" stroke="#8a1a8a" stroke-width="1.4" />
<rect x="582.0" y="1536.0" width="4" height="4" fill="#fff" stroke="#8a1a8a" stroke-width="1.2"/>
<line x1="618.5" y1="1538.0" x2="665.1" y2="1538.0" stroke="#a01c1c" stroke-width="1.4" />
<rect x="639.8" y="1536.0" width="4" height="4" fill="#fff" stroke="#a01c1c" stroke-width="1.2"/>
<g fill="none" stroke-width="4.5" stroke-linejoin="round" stroke-linecap="round">
<polyline points="366.0,492.0 366.1,488.1 366.8,484.7 366.9,482.1 366.8,479.2 367.0,475.9 367.4,472.0 368.0,470.3 368.0,465.8 368.8,464.1 369.0,460.0 369.2,456.8 369.8,453.1 369.8,450.6 369.2,447.2 369.6,445.6 369.6,442.2 370.2,438.7 370.2,435.1 369.9,432.4 370.5,430.0 370.9,426.9 370.8,424.2 371.2,420.6 371.7,418.4 371.4,415.1 371.9,412.8 372.4,408.6 372.8,405.2 372.5,403.5 372.5,400.0 372.6,397.3 373.3,394.0 374.3,390.9 375.2,387.2 375.7,384.6 376.3,381.1 377.0,378.0 378.3,375.5 378.8,371.5 379.3,368.2 380.7,364.4 381.7,362.5 382.7,358.2 383.2,356.1 383.7,352.8 385.0,350.0 385.8,346.2 386.9,344.4 388.1,340.3 389.6,337.8 390.8,335.8 391.7,332.2 393.5,330.3 395.0,327.5 396.0,324.0 397.5,321.0 399.2,319.0 401.5,314.7 402.4,311.9 404.4,309.6 406.9,307.3 410.0,305.0 413.2,303.1 416.3,302.2 418.3,300.1 421.1,298.4 423.7,296.3 428.0,298.0 430.8,301.2 432.6,303.7 435.3,301.1 438.0,298.0 440.8,295.5 443.7,295.4 445.9,293.3 449.3,291.7 452.0,289.0 454.8,286.5 457.8,284.4 463.0,284.0 465.9,283.8 469.6,283.0 471.4,279.9 474.1,278.5 474.9,274.9 476.1,271.7 476.9,269.0 478.5,266.7 480.1,263.5 482.0,261.5 484.4,257.8 486.7,257.4 486.8,253.6 486.5,250.9 486.6,247.3 487.0,245.9 486.7,241.8 486.3,237.9 486.5,235.2 487.0,231.8 486.2,230.3 486.7,226.3 486.8,222.5 486.8,219.2 486.9,218.0 487.3,214.4 486.7,210.6 486.7,208.3 487.1,205.3 486.9,201.1 487.4,199.5 487.5,196.1 487.5,192.8 487.0,189.3 487.2,185.3 486.9,182.7 487.2,180.4 487.9,176.8 488.0,174.8 488.0,170.5 487.3,167.1 487.4,164.0 487.8,162.3 488.1,158.4 488.0,155.9 487.4,152.6 488.3,149.7 488.2,146.0 488.0,143.0" stroke="#000000"/>
<polyline points="488.0,143.0 484.8,143.3 481.9,143.4 479.3,142.9 475.9,143.5 473.1,142.6 469.8,142.6 467.2,143.4 463.8,143.4 461.3,143.2 457.9,143.1 454.8,142.4 452.0,143.0 448.8,143.4 445.0,143.5 441.9,144.4 438.8,144.7 436.0,144.3 432.7,145.0 429.7,146.2 426.9,147.9 424.0,149.2 421.1,151.2 418.5,152.1 415.6,154.0 412.9,156.5 410.0,158.0 407.3,160.6 404.8,162.2 402.1,163.7 399.5,166.4 396.2,168.8 393.0,172.0 391.4,175.1 390.2,177.4 389.2,180.2 387.7,182.9 386.5,185.9 385.5,189.3 384.0,192.0 383.0,194.7 382.0,198.0 381.4,201.2 380.4,204.6 379.8,207.4 378.9,210.6 378.0,213.8 375.5,217.6 373.0,221.0 368.5,217.9 367.5,215.0 366.6,212.6 365.8,209.7 364.7,206.3 363.8,202.9 362.4,200.7 361.4,196.6 359.8,193.9 358.9,190.9 357.3,187.6 355.9,185.0 355.0,182.3 353.2,179.0 352.1,175.3 350.9,173.3 349.3,169.7 347.6,167.2 346.2,163.5 345.0,160.9 342.9,157.3 341.6,154.3 339.7,151.0 337.7,147.9 336.0,145.0 333.0,142.0" stroke="#000000"/>
<polyline points="333.0,142.0 331.6,143.4 329.7,147.2 328.0,150.0 325.4,152.9 324.2,156.7 322.0,160.0 319.7,163.8 318.9,166.2 316.2,166.9 315.0,170.0 311.9,172.7 309.7,173.0 307.4,177.1 305.0,178.0 302.9,179.1 299.5,182.6 297.6,183.8 295.0,185.0 291.1,185.5 288.6,188.1 285.0,190.0 281.1,193.1 278.5,194.8 275.0,196.0 271.1,197.3 267.8,197.6 265.0,197.0 261.6,196.2 258.4,197.4 255.0,196.0 251.4,196.4 248.4,198.0 245.0,200.0 241.5,201.1 238.4,203.2 236.0,206.0 232.8,208.0 230.0,211.0 227.3,209.0 224.0,208.0 222.0,204.7 220.0,203.0 218.1,205.1 216.3,208.4 215.0,213.0 212.0,215.1 207.9,216.9 205.0,219.0 202.2,219.0 198.7,220.8 195.0,222.0 190.0,225.0" stroke="#000000"/>
<polyline points="190.0,225.0 191.0,230.0 193.0,233.1 195.0,235.2 197.1,237.8 200.5,239.3 203.5,239.9 207.0,240.4 210.1,240.9 213.1,241.4 216.7,242.7 219.4,243.6 222.6,243.5 225.6,245.0 229.2,245.4 231.8,245.4 234.9,246.3 237.8,246.9 241.1,247.6 243.9,249.6 247.4,250.4 249.9,252.3 252.9,252.8 255.7,254.1 259.0,255.7 262.0,257.0 264.8,258.3 267.7,259.3 270.7,260.9 273.7,261.7 276.9,263.3 280.0,265.0 282.9,266.3 285.9,267.8 288.7,269.4 291.4,269.9 294.6,270.9 297.3,272.9 300.0,274.0 302.7,276.3 306.3,277.8 309.2,279.8 311.7,281.2 315.0,283.0 317.5,285.3 320.2,287.1 322.6,289.0 325.1,290.6 327.3,291.5 330.0,294.0 331.6,296.3 333.5,299.5 335.7,301.7 337.6,304.3 339.4,305.8 341.5,309.3 343.1,311.5 345.0,314.0 346.2,316.3 347.4,319.4 348.0,322.3 349.6,325.1 350.7,329.1 351.7,331.2 352.8,334.5 354.1,337.3 355.0,340.0 355.6,342.4 355.8,345.7 356.7,348.7 357.0,351.3 357.2,354.7 358.1,358.3 358.6,360.7 359.0,364.0 359.5,366.5 360.0,370.0 360.5,372.7 360.8,376.8 360.4,379.2 361.1,383.0 361.1,385.1 361.2,389.1 361.4,391.7 361.6,394.6 362.4,397.2 362.5,400.8 362.8,404.1 362.6,407.5 363.0,410.0 363.1,412.4 362.8,416.1 363.2,419.0 363.1,422.1 363.3,425.9 363.1,428.8 363.8,431.0 363.9,434.9 364.0,437.4 363.7,440.6 364.2,444.0 363.8,446.8 364.0,450.0 363.9,452.4 363.9,456.5 364.1,459.6 364.1,461.7 364.4,464.6 364.3,468.6 364.8,471.4 364.7,474.6 365.0,477.1 364.9,479.4 364.9,482.9 365.0,486.2 364.8,488.4 365.0,492.0" stroke="#000000"/>
<polyline points="367.0,492.0 367.7,488.2 367.5,485.5 367.5,483.2 368.5,479.2 368.4,476.2 368.6,473.3 368.4,469.7 368.7,468.1 369.2,463.7 369.9,462.2 369.7,457.4 370.0,455.0 370.1,451.1 370.6,447.9 370.9,445.1 371.6,443.3 372.1,439.2 372.2,436.3 372.5,432.8 373.0,430.0 373.0,426.6 374.3,423.3 374.2,421.3 375.0,417.4 374.8,414.5 375.3,411.9 376.3,409.7 376.6,405.0 376.1,403.4 377.4,399.9 377.5,396.0 377.8,394.0 379.1,391.7 381.0,388.3 382.6,383.9 383.2,380.5 385.0,378.0 387.1,375.6 389.7,373.0 391.5,370.4 393.4,367.2 395.6,364.4 397.3,362.1 399.7,359.5 402.3,355.4 404.4,352.9 406.3,350.1 409.0,348.7 410.7,345.1 413.3,343.7 415.7,340.5 418.0,337.0 420.0,333.9 422.2,331.9 423.3,327.9 424.0,325.9 425.6,323.2 426.5,319.9 426.9,316.5 428.1,314.0 431.5,311.4 434.0,308.0 435.8,304.1 438.0,302.5 440.0,299.3 441.9,295.7 444.2,294.0 446.0,290.0 447.2,286.2 448.8,284.1 450.6,280.8 451.9,278.5 452.8,275.7 453.1,271.3 454.2,268.2 454.7,264.8 455.0,262.0 455.3,259.3 455.9,256.5 456.7,251.8 457.0,249.0 457.8,246.0 460.1,243.9 462.0,240.0 462.8,236.9 464.1,235.3 465.2,230.6 466.2,228.4 468.3,226.6 469.3,223.9 470.2,220.1 472.6,217.4 473.7,216.3 476.2,212.2 478.0,210.6 479.8,208.5 482.3,211.4 485.0,215.0 487.0,216.3 489.4,219.4 491.9,222.0 492.4,218.2 492.4,215.3 491.8,213.5 492.2,209.7 491.4,206.8 491.8,204.6 491.6,200.5 492.3,196.8 491.8,195.3 492.2,190.7 491.4,187.7 492.3,185.1 492.1,183.3 491.7,179.0 492.4,176.7 491.7,173.8 491.7,169.9 491.4,167.8 492.3,164.5 492.3,160.3 491.6,158.1 492.4,156.1 491.8,151.6 491.8,149.1 492.3,145.4 491.9,143.0" stroke="#e41a1a"/>
<polyline points="491.9,143.0 489.0,143.2 486.0,143.3 482.9,142.8 479.7,142.9 476.9,142.6 473.6,143.3 470.6,142.6 467.5,143.1 464.6,143.5 461.8,143.5 458.5,142.6 455.4,143.0 452.7,142.9 449.4,142.9 446.6,143.2 443.6,143.3 440.5,142.6 437.6,142.8 434.4,142.9 431.5,142.7 428.2,142.7 425.1,143.4 422.3,142.8 419.2,143.5 416.2,142.7 413.4,143.2 410.4,142.6 407.1,143.3 404.3,143.4 400.9,142.8 397.9,142.7 395.3,143.1 392.2,142.9 389.0,143.0 387.5,145.9 385.5,149.3 384.0,152.0 383.4,154.6 382.4,158.1 381.4,160.9 380.5,163.7 379.7,167.1 379.0,170.0 378.2,172.8 377.0,176.1 376.5,179.1 375.5,182.3 374.9,185.8 373.6,188.5 373.0,192.0 371.9,195.3 371.1,198.1 369.8,201.9 369.0,205.0 368.2,201.4 367.3,198.7 366.5,194.9 365.7,191.3 365.0,188.0 364.3,185.2 363.2,181.1 362.5,177.8 361.3,175.3 360.7,171.9 359.8,168.7 359.0,165.0 357.8,161.5 356.4,158.7 355.6,155.9 354.1,152.5 353.1,149.2 352.0,146.0 350.2,142.6 348.8,140.0 347.0,136.4 345.8,133.7 344.0,130.0 341.5,126.6 339.6,124.5 337.0,121.0 333.5,119.1 330.0,118.0" stroke="#e41a1a"/>
<polyline points="330.0,118.0 326.7,122.0 325.0,124.4 322.8,127.6 320.0,130.0 318.4,131.8 316.4,134.6 314.0,138.0 311.6,141.2 309.8,141.8 307.1,144.9 304.3,147.1 302.3,149.5 299.3,151.6 297.4,154.7 294.4,157.4 290.3,158.1 287.6,159.6 284.7,159.6 281.5,161.0 277.8,163.2 274.3,163.9 270.5,164.4 268.2,165.7 265.5,168.3 263.1,170.4 260.7,171.8 257.1,173.0 252.9,174.9 250.0,176.0 246.7,175.6 243.7,177.4 240.0,177.0 236.9,176.4 234.0,176.4 230.5,177.4 227.5,177.6 225.0,178.0 222.0,177.2 219.2,177.7 216.3,179.9 213.0,178.4 210.0,180.0 206.7,180.3 203.9,180.4 200.0,182.0 194.7,182.8 189.8,184.0" stroke="#e41a1a"/>
<polyline points="189.8,184.0 190.2,188.8 190.0,192.0 192.7,194.3 194.8,196.4 197.5,198.2 200.3,198.8 202.7,201.9 205.0,203.0 207.5,204.3 210.9,205.5 213.8,207.1 216.6,208.4 219.2,211.2 222.0,212.0 224.8,213.1 228.0,214.7 230.6,216.0 233.7,218.7 237.1,220.1 240.0,221.0 242.9,223.1 246.1,224.2 249.7,225.6 253.1,227.5 256.0,229.0 259.1,230.6 261.7,231.8 265.0,232.0 268.5,232.8 272.0,233.6 275.6,235.1 278.5,236.4 282.0,237.0 282.5,232.5 283.0,229.0 283.6,231.7 284.1,235.4 284.3,240.0 284.7,242.9 285.0,246.0 287.4,247.2 289.6,249.4 292.6,251.9 295.0,254.6 297.2,255.6 300.0,258.0 302.6,259.0 304.6,261.3 307.2,263.0 309.8,265.1 312.6,266.3 315.1,268.5 317.2,270.9 320.0,272.0 322.0,273.7 324.2,276.7 327.0,279.2 328.9,280.6 330.9,283.5 333.5,285.3 335.9,287.7 338.0,290.0 339.8,293.1 340.8,296.1 342.1,298.3 343.9,300.6 345.1,304.2 346.6,306.6 348.9,308.7 350.0,312.0 350.5,315.2 351.5,318.2 352.4,320.5 352.8,323.7 353.3,327.6 354.6,330.3 354.7,333.6 356.0,335.9 356.7,338.9 357.1,341.4 358.0,345.0 358.1,347.3 358.4,351.4 359.0,354.6 359.2,356.6 359.4,359.9 359.8,363.0 359.7,366.2 360.5,368.5 360.7,371.2 360.5,374.6 361.1,378.7 361.4,380.7 361.8,383.7 361.5,387.7 362.0,390.0 362.3,393.4 362.5,397.0 362.5,399.9 362.9,403.1 362.9,406.0 363.2,408.4 363.1,412.1 363.2,415.7 363.4,417.4 363.6,421.9 363.9,423.8 363.9,426.8 364.6,430.8 364.8,434.1 364.5,437.0 365.0,440.0 364.9,443.6 365.4,446.7 364.8,449.8 365.6,452.9 365.0,454.8 365.0,457.6 365.7,461.9 365.6,465.0 365.6,467.2 365.3,469.9 365.9,473.2 365.6,476.6 365.4,479.4 365.6,483.2 365.8,485.6 366.3,488.9 366.0,492.0" stroke="#e41a1a"/>
<polyline points="368.0,492.0 368.5,489.2 367.9,485.7 368.5,483.4 368.6,480.2 368.9,476.1 369.4,472.8 369.6,469.9 368.9,466.9 369.9,465.4 369.3,461.4 369.9,458.9 369.8,455.3 370.1,452.9 370.2,450.1 370.4,445.5 371.0,443.1 371.0,440.0 370.9,437.3 371.1,434.6 372.0,431.6 372.2,427.7 372.2,424.8 373.0,421.2 373.3,418.1 372.8,415.5 373.8,413.0 373.5,410.8 373.7,406.9 374.2,404.5 374.7,401.3 374.6,397.7 375.0,395.0 375.2,392.7 376.2,389.5 376.2,385.9 377.3,383.2 377.1,379.9 378.4,376.5 378.2,373.6 379.2,371.7 379.2,367.3 379.7,364.7 380.5,361.3 380.8,358.4 382.0,356.5 381.6,353.9 382.1,349.8 383.5,347.6 383.7,343.9 383.7,341.3 384.1,337.4 385.0,335.0 385.8,330.9 386.6,329.3 387.8,325.6 388.6,322.4 389.0,319.6 390.2,316.7 391.5,313.0 392.0,310.0 393.2,307.7 394.2,303.9 395.7,302.4 396.9,299.3 398.1,296.4 398.9,293.3 402.1,290.8 404.8,288.7 408.0,286.0 411.0,283.8 415.1,282.3 418.2,279.8 421.6,277.4 424.7,275.8 428.0,274.0 431.3,271.9 434.4,271.1 437.4,268.3 439.2,266.0 442.0,262.9 443.8,261.5 446.0,258.0 447.8,255.7 450.3,253.8 452.9,250.9 455.9,248.4 457.6,245.9 460.6,243.2 463.0,241.2 465.4,238.7 468.1,236.0 470.2,233.6 471.7,231.4 473.0,227.8 474.7,224.9 476.0,222.2 477.9,218.2 479.7,214.9 481.5,213.1 483.2,210.8 485.6,208.5 487.5,212.1 489.6,215.0 489.5,211.5 489.3,209.5 490.0,206.1 489.3,203.6 489.5,199.4 489.2,197.6 489.9,194.3 489.6,191.1 489.3,188.9 489.5,185.3 489.9,182.6 489.6,178.6 489.6,175.3 489.9,172.7 490.0,169.5 489.5,166.5 489.5,163.4 489.1,161.4 489.4,157.5 489.4,155.0 489.5,152.3 489.8,148.7 490.0,146.7 489.6,143.0" stroke="#2436b0"/>
<polyline points="489.6,143.0 492.4,143.3 495.8,143.2 498.5,143.3 501.7,142.6 504.4,143.4 507.7,142.8 510.5,142.7 513.5,143.2 516.6,142.7 519.8,143.2 522.5,143.3 525.7,143.2 528.7,143.3 531.8,143.3 534.6,143.2 537.7,143.2 540.7,143.3 543.7,143.0 543.7,146.0 543.6,149.2 543.7,152.3 543.7,155.6 543.7,159.1 543.7,162.6 543.5,165.8 543.7,168.8 543.7,172.0 543.8,169.1 543.6,165.5 543.9,162.0 543.8,159.2 543.5,156.0 543.8,153.0 543.6,149.8 543.7,146.2 543.7,143.0 540.8,142.6 537.8,143.1 534.6,143.3 531.6,143.0 528.6,143.2 525.5,142.9 522.6,143.0 519.7,142.8 516.7,142.9 513.6,142.8 510.6,143.4 507.6,143.2 504.5,142.9 501.4,143.1 498.5,143.2 495.3,143.2 492.6,143.0 489.3,142.8 486.2,142.8 483.6,143.1 480.5,143.2 477.6,143.1 474.4,143.1 471.4,143.1 468.4,142.8 465.4,143.0 462.4,142.7 459.2,142.6 456.4,143.3 453.4,142.9 450.4,143.2 447.3,142.8 444.2,142.9 441.2,142.9 438.3,143.3 435.0,143.1 432.0,142.7 429.3,143.1 426.3,143.0 423.0,142.9 420.2,143.4 417.3,143.0 414.1,142.7 411.2,142.8 407.9,142.6 404.9,143.1 401.9,143.4 398.9,143.3 395.9,142.6 393.1,142.8 390.0,143.0 387.6,146.2 385.0,150.0 383.8,153.4 383.1,156.7 382.1,159.3 381.1,163.0 380.0,166.0 379.2,169.5 378.2,172.7 377.6,175.1 376.5,178.8 376.0,181.5 375.0,185.0 373.9,188.2 372.9,191.3 372.0,193.6 370.9,197.1 370.0,200.0 368.0,196.1 366.0,192.0 364.9,188.8 363.9,185.3 363.1,181.7 362.0,178.6 361.0,175.0 360.0,172.1 358.7,168.5 357.3,165.9 356.4,162.6 355.1,159.3 354.0,156.0 352.6,153.1 350.8,149.4 349.2,146.7 347.6,143.3 346.0,140.0 344.3,137.1 342.6,133.3 340.6,130.1 339.0,127.0 336.5,124.6 334.0,122.0" stroke="#2436b0"/>
<polyline points="334.0,122.0 332.4,125.9 330.0,128.0 328.2,131.8 327.9,134.9 326.3,136.5 325.0,140.0 324.4,143.7 323.2,147.0 321.8,148.0 321.1,152.7 320.0,155.0 318.6,159.0 318.5,161.2 317.1,165.6 316.0,167.9 315.0,172.0 314.2,175.6 314.3,177.9 313.0,181.7 313.3,183.4 312.6,188.0 312.0,190.0 312.5,193.2 312.0,196.2 308.6,197.3 305.0,197.3 302.0,199.0 298.6,200.0 295.8,200.2 292.9,200.5 290.0,201.0 286.6,200.7 284.6,202.3 280.5,203.7 278.3,203.4 275.0,205.0 272.1,205.2 269.1,204.9 265.5,207.8 263.1,207.2 260.3,206.8 256.6,205.8 253.3,206.0 250.6,205.2 247.7,205.4 244.5,205.3 241.1,203.6 237.8,201.6 234.6,201.0 231.5,199.7 228.9,199.9 225.5,200.8 221.9,201.0 219.0,198.9 215.0,200.0 212.1,200.4 208.5,202.3 205.7,202.0 203.2,203.5 200.0,203.0 196.9,203.4 193.3,203.5 190.0,205.0" stroke="#2436b0"/>
<polyline points="312.0,196.0 312.0,271.0" stroke="#2436b0"/>
<polyline points="190.0,205.0 192.0,209.0 195.4,210.0 197.8,208.6 200.8,209.3 204.3,210.3 207.3,209.1 210.0,210.0 213.4,210.2 216.4,210.5 219.0,209.1 222.7,210.2 225.8,209.1 228.8,209.7 231.6,208.8 235.0,209.0 238.1,208.4 241.7,208.5 244.8,208.4 248.5,208.2 251.8,208.5 255.0,209.0 257.9,210.0 261.3,210.2 265.1,210.4 267.7,210.0 271.0,211.0 274.8,210.8 277.8,210.9 280.8,211.9 284.2,213.3 287.1,214.0 290.0,215.8 292.9,216.1 296.5,217.9 299.1,219.5 302.4,219.8 305.4,220.6 309.1,221.7 312.0,223.0 314.3,225.0 317.1,227.6 319.5,229.8 322.0,231.6 325.0,233.0 327.4,235.0 329.6,237.5 331.7,239.8 334.1,243.5 336.5,245.1 338.3,248.6 339.0,250.4 341.1,252.8 342.3,256.0 344.0,258.4 345.0,262.0 346.0,264.9 346.3,267.4 347.6,271.4 347.9,274.3 349.2,277.1 349.7,280.1 350.2,284.2 351.4,286.4 352.0,290.0 352.3,292.3 353.3,296.0 353.6,298.5 354.5,302.3 355.2,305.1 355.4,307.3 356.4,310.9 357.0,313.3 357.6,316.7 358.0,320.0 358.7,323.7 358.8,325.4 359.5,329.2 359.8,331.9 359.7,335.9 360.2,337.9 360.6,341.7 360.7,344.6 361.4,347.7 361.5,351.1 362.5,354.4 362.5,357.3 363.0,360.0 363.1,363.4 362.9,366.6 363.8,369.0 363.6,372.0 363.8,374.2 364.3,377.6 363.8,380.4 364.0,384.5 364.0,386.4 364.7,389.5 364.3,393.2 364.9,396.0 365.1,398.4 365.4,402.3 364.9,404.4 365.4,408.0 365.4,410.4 365.6,413.4 365.9,417.6 366.0,420.0 365.8,423.1 366.3,425.5 366.4,429.7 366.1,431.9 366.5,435.0 366.2,438.7 366.5,440.7 366.1,443.7 366.3,447.8 366.7,450.7 366.7,453.6 366.1,456.0 366.9,459.7 366.4,461.9 366.7,464.8 366.7,467.3 366.7,471.0 366.4,473.4 367.2,477.4 367.2,480.2 367.1,483.6 367.2,485.3 367.1,488.6 367.0,492.0" stroke="#2436b0"/>
<polyline points="367.0,492.0 367.4,488.5 367.4,486.7 367.7,482.3 367.7,479.6 368.3,476.3 367.9,473.9 367.9,470.8 368.9,467.6 368.4,464.4 368.8,460.7 368.6,457.6 368.9,455.1 369.1,451.7 369.1,449.3 370.0,446.3 369.9,443.4 370.0,440.0 369.9,437.4 370.4,434.1 370.7,430.9 370.6,427.5 370.7,425.0 371.1,422.2 370.9,418.7 372.0,415.5 371.9,413.0 371.8,411.0 372.0,407.5 372.1,403.1 373.0,400.9 372.4,397.8 372.9,395.5 372.8,391.5 373.9,389.5 373.3,385.7 373.7,383.4 374.0,380.0 374.5,377.6 375.2,373.8 375.5,371.2 375.9,367.5 376.4,364.9 376.9,360.6 377.3,357.2 377.6,355.3 377.8,352.9 378.3,348.7 378.9,346.5 379.2,342.4 379.4,339.5 380.1,336.0 380.2,333.4 380.6,329.9 381.5,327.8 381.6,324.0 383.0,321.2 384.1,318.3 385.4,316.2 387.3,312.5 389.0,310.3 390.0,308.0 392.3,306.1 394.5,302.2 395.9,301.0 397.5,296.7 400.0,295.0 402.1,292.4 404.5,290.3 406.1,288.1 408.1,284.5 410.3,281.7 412.0,279.4 414.0,277.5 416.2,274.0 418.3,271.3 419.7,268.3 422.0,266.0 424.2,263.9 426.5,260.4 428.0,258.0 430.0,255.0 432.4,252.2 433.8,250.6 435.3,247.1 438.0,245.6 439.4,241.6 441.7,240.3 443.2,237.4 445.2,235.6 446.9,231.8 447.8,228.8 449.8,226.4 451.2,223.1 453.3,221.1 454.8,218.2 455.3,216.2 456.2,211.3 456.6,209.8 457.2,206.6 457.5,202.8 459.0,200.4 459.5,196.6 460.0,194.3 460.6,191.2 463.1,188.9 466.0,186.0 469.1,185.7 472.1,183.5 474.7,185.3 476.9,186.7 479.8,189.3 483.2,186.4 486.0,185.0 485.6,181.3 486.0,179.6 486.1,176.6 485.6,172.0 486.3,169.6 486.2,166.7 485.7,163.5 485.6,161.8 486.1,157.7 485.9,154.8 485.6,152.8 486.1,149.9 485.9,146.2 486.0,143.0" stroke="#0f7570"/>
<polyline points="486.0,143.0 482.9,142.6 480.1,143.3 476.8,143.3 474.0,142.8 470.9,143.4 467.8,143.4 464.7,142.9 461.8,142.8 458.6,143.3 455.7,143.2 452.6,142.7 449.6,142.7 446.8,142.8 443.6,142.7 440.5,142.9 437.5,142.7 434.3,143.3 431.4,142.8 428.3,142.8 425.3,142.6 422.4,142.9 419.2,143.2 416.1,142.8 413.4,142.7 410.2,143.3 407.3,142.7 404.1,143.2 401.1,143.4 398.0,143.4 395.1,142.8 392.0,142.7 389.0,143.0 387.4,146.1 385.8,149.7 384.0,153.0 382.9,156.2 382.0,159.6 381.1,162.9 380.0,166.6 379.0,170.0 378.1,173.6 377.3,176.8 376.5,179.8 375.6,183.0 374.7,186.9 374.0,190.0 372.8,193.6 371.6,197.0 370.6,200.5 369.5,204.0 368.3,200.2 367.2,196.8 366.0,193.7 365.0,190.0 364.0,186.9 363.4,184.2 362.5,181.3 361.4,177.8 360.4,175.1 359.8,171.9 358.8,169.1 358.0,166.0 356.9,162.9 355.9,160.2 354.6,157.2 353.3,154.9 352.4,151.9 351.0,148.5 350.0,146.0 348.3,142.6 346.7,139.5 345.0,136.2 343.7,132.9 342.0,130.0 340.1,127.1 338.1,123.8 336.0,121.0" stroke="#0f7570"/>
<polyline points="336.0,121.0 334.7,124.5 333.3,125.7 332.7,130.7 331.0,133.0 329.6,135.4 329.3,140.4 327.2,143.1 326.7,147.3 323.8,150.5 321.4,153.3 319.7,153.6 317.2,156.9 314.5,159.6 312.4,162.4 309.3,162.4 307.7,165.2 305.2,167.9 302.2,169.3 299.5,172.0 296.3,172.9 292.5,175.4 290.0,176.7 286.9,178.0 284.5,178.2 281.2,179.2 277.8,181.6 274.6,183.1 270.6,183.2 268.2,184.1 264.2,183.8 260.7,185.2 257.0,185.4 254.3,185.5 251.0,185.9 248.4,187.9 245.0,188.0 241.7,187.7 239.0,188.7 236.6,188.8 232.7,190.6 230.0,190.0 226.5,190.0 223.8,190.4 221.1,190.1 217.6,189.6 215.0,189.0 211.6,188.5 208.3,189.0 204.4,187.7 201.0,187.9 198.4,188.4 195.1,189.3 192.3,191.1 189.8,191.3" stroke="#0f7570"/>
<polyline points="189.8,191.3 189.9,194.0 190.0,198.0 192.4,199.7 194.9,201.0 197.2,202.5 200.0,205.0 203.3,206.7 205.4,207.9 209.0,209.0 211.1,210.1 214.2,210.9 217.2,211.9 220.0,214.0 223.2,215.7 225.8,217.6 228.7,217.9 231.2,219.1 233.9,221.6 237.4,222.2 240.0,224.0 242.2,226.6 245.3,229.3 247.2,231.5 250.3,233.7 252.4,235.2 255.0,238.0 257.0,240.7 258.4,244.1 260.1,247.5 262.0,250.0 264.4,250.9 267.3,253.4 270.1,255.1 272.7,257.1 275.0,258.0 277.5,260.0 279.7,261.7 282.6,263.3 285.2,265.5 287.5,268.8 290.0,270.0 292.2,270.9 295.0,272.8 297.7,274.2 300.3,277.2 302.7,278.2 305.0,280.0 307.3,282.3 310.0,283.9 312.4,285.9 315.1,288.5 317.8,289.5 320.0,292.0 322.1,294.4 324.6,296.8 326.5,298.8 328.9,301.9 331.6,305.2 333.8,307.8 336.1,309.7 338.0,312.0 340.0,314.2 341.6,317.9 343.0,320.7 345.2,323.4 346.7,326.0 348.2,329.8 350.0,332.0 350.5,334.6 351.9,338.1 352.3,341.6 353.5,344.6 354.4,347.6 355.4,350.5 355.9,353.3 357.4,357.0 358.0,360.0 358.0,363.7 358.4,365.6 359.0,369.0 359.2,372.6 359.3,375.7 359.6,378.8 360.3,381.2 360.4,384.3 360.8,388.7 361.2,391.6 361.6,393.8 362.1,397.9 361.7,401.2 362.3,403.2 363.1,407.0 363.0,410.0 363.3,412.5 363.4,415.4 363.1,418.9 363.1,422.3 363.3,424.9 363.8,428.1 364.1,431.5 364.2,434.4 364.3,437.9 363.8,440.8 364.1,443.8 364.5,447.0 364.1,449.3 364.7,453.2 364.8,454.8 364.9,458.0 364.9,462.1 364.7,465.3 365.3,467.3 365.0,470.7 365.6,473.9 365.1,476.0 365.2,480.3 365.4,483.0 365.6,486.2 365.8,488.4 366.0,492.0" stroke="#0f7570"/>
<polyline points="253.3,206.0 253.3,250.0" stroke="#0f7570"/>
<polyline points="256.0,206.0 256.0,262.0" stroke="#0f7570"/>
<polyline points="276.0,262.0 276.0,318.0" stroke="#0f7570"/>
<polyline points="367.0,492.0 367.6,489.0 367.5,486.5 368.0,481.9 367.5,479.1 367.9,477.5 368.4,472.7 367.9,471.2 368.6,467.3 368.6,463.8 369.1,461.2 369.3,458.6 368.7,455.0 369.0,453.0 369.6,448.3 369.3,445.8 369.8,443.2 370.0,440.0 370.2,436.6 370.1,434.0 370.8,429.8 371.2,428.7 371.1,423.9 372.0,421.1 371.9,418.5 372.2,415.5 372.8,413.2 373.6,408.3 373.4,406.7 374.1,403.6 374.0,400.0 374.5,397.3 374.7,393.6 375.5,391.7 376.0,388.4 375.8,385.5 376.6,382.0 376.9,378.7 377.3,375.8 377.2,372.7 378.0,370.0 378.4,368.0 379.0,363.7 379.3,360.5 380.0,357.3 380.2,355.7 381.1,351.9 381.8,348.6 381.9,345.1 382.6,342.6 383.5,340.1 384.3,336.7 384.8,334.2 384.5,330.4 385.4,328.0 386.5,325.9 387.4,322.3 388.5,319.4 389.2,315.5 391.1,312.0 391.6,308.4 392.5,305.8 394.1,302.5 395.0,300.0 396.2,296.6 397.8,295.1 399.2,291.0 400.6,289.8 401.9,285.2 403.4,284.0 404.3,279.7 405.5,277.8 407.5,275.2 408.5,272.1 410.5,268.8 411.4,267.2 413.3,263.8 414.8,261.0 415.8,258.4 417.3,256.2 419.1,253.2 420.9,250.0 422.3,246.8 423.9,245.1 426.3,242.8 428.4,239.4 430.1,238.4 431.8,234.7 433.6,232.4 436.2,230.0 438.3,228.2 440.0,226.0 442.1,223.6 444.2,221.2 446.3,217.9 448.5,215.2 450.5,213.6 452.7,210.2 454.7,208.9 456.5,204.9 458.6,202.8 461.8,206.1 464.5,206.6 468.0,210.0 470.5,212.4 473.2,213.8 475.9,215.6 477.9,218.2 480.6,219.3 482.3,221.4 484.7,224.1 487.6,225.4 490.0,228.0 492.8,230.2 494.4,232.4 497.2,235.5 500.0,237.0 502.2,235.5 503.6,231.4 505.9,230.0 506.2,226.5 506.4,224.0 506.0,220.7 506.2,217.9 505.7,215.8 505.5,212.5 505.5,209.3 505.8,206.7 505.5,203.1 505.8,200.8 506.3,197.3 505.6,193.5 505.7,190.9 505.6,187.4 506.2,185.3 505.7,183.0 505.6,179.1 505.6,176.7 506.3,172.5 506.2,170.6 505.7,166.7 505.9,164.8 505.6,161.4 506.0,157.9 506.0,155.8 505.6,152.8 505.8,149.6 506.3,145.4 505.9,143.0" stroke="#ac44ac"/>
<polyline points="505.9,143.0 509.3,143.4 512.3,142.6 515.4,143.4 518.6,143.3 522.0,143.0 521.9,146.2 521.8,148.7 522.0,152.0 522.1,148.7 521.9,146.3 522.0,143.0 525.1,143.3 528.2,142.6 531.0,143.0 530.9,146.2 531.1,148.6 531.0,152.0 531.0,148.8 531.0,145.7 531.0,143.0 527.8,143.4 524.9,143.3 521.8,143.0 518.9,142.9 515.9,143.1 512.9,143.2 510.0,142.7 506.9,143.0 504.2,142.9 500.9,143.4 498.2,143.2 494.9,142.7 491.9,142.7 488.8,143.0 486.0,143.0 482.9,142.6 480.1,143.1 477.0,143.0 474.1,143.4 471.1,143.2 468.0,142.9 465.0,143.4 462.0,142.9 459.0,142.7 456.2,142.6 453.0,143.3 449.9,143.1 447.0,142.8 443.9,142.7 441.1,143.2 438.2,142.6 435.1,142.9 432.1,143.0 428.9,143.4 425.8,143.2 423.1,143.0 420.0,143.4 416.9,143.1 414.1,142.9 411.1,142.9 408.0,143.1 405.1,142.9 402.1,143.0 398.9,143.1 395.9,143.3 393.0,143.2 390.0,143.0 388.3,146.0 386.6,148.7 385.0,152.0 384.2,155.2 383.0,158.4 382.1,161.4 380.9,165.1 380.0,168.0 379.2,171.1 378.5,174.3 377.6,176.6 376.6,180.3 376.0,182.7 375.0,186.0 373.9,188.8 372.8,191.9 372.1,195.0 371.0,197.7 370.0,201.0 368.7,198.1 367.6,194.5 366.2,191.5 365.0,188.0 364.1,184.4 363.1,181.2 362.0,177.8 360.9,174.5 360.0,170.9 359.0,168.0 357.3,164.9 355.6,161.3 354.3,158.2 352.5,155.0 351.0,152.0 349.1,149.2 347.1,147.3 344.9,144.4 343.0,142.0 340.1,141.1 337.0,140.0" stroke="#ac44ac"/>
<polyline points="337.0,140.0 335.5,142.2 334.3,146.3 333.0,150.0 331.3,153.1 329.1,157.1 327.4,160.7 326.3,163.3 324.3,166.9 319.4,169.3 318.6,173.2 318.7,175.9 318.1,180.8 316.9,184.0 315.5,187.4 314.2,189.0 313.5,192.7 312.0,196.0 307.1,198.7 302.2,196.2 299.0,197.0 296.2,198.5 292.5,198.7 288.7,200.6 285.9,201.9 282.7,203.6 279.9,205.0 276.3,207.7 273.1,208.4 270.0,210.0 267.7,213.5 265.6,216.0 263.1,218.2 260.0,217.1 257.3,218.3 254.4,218.8 250.6,217.5 247.5,219.0 245.0,218.2 241.3,217.2 238.9,218.4 234.8,218.6 232.4,218.2 228.9,218.2 224.9,218.9 221.9,218.8 219.1,219.6 215.0,219.0 213.7,215.5 211.4,213.8 209.2,212.3 208.1,208.5 207.7,204.6 207.5,201.3 208.0,198.6 207.4,195.0 206.7,191.4 207.5,189.3 206.9,185.2 207.5,188.3 206.8,191.5 207.4,196.0 207.5,200.0 206.4,202.8 205.5,205.4 204.6,207.9 203.7,211.6 201.6,213.8 201.1,216.9 200.0,220.0 198.1,222.6 195.7,226.7 193.7,229.5 192.0,232.0 190.0,234.5 187.3,236.6" stroke="#ac44ac"/>
<polyline points="187.3,236.6 191.0,239.1 194.7,240.2 197.9,242.0 200.8,242.6 204.4,243.9 207.5,244.0 210.6,245.0 213.3,246.0 216.5,247.5 219.4,248.3 222.2,249.4 225.0,250.0 227.7,250.7 231.0,251.7 233.9,253.0 236.1,253.9 239.5,256.4 242.1,257.1 245.0,258.0 247.8,260.0 251.1,260.2 253.6,262.5 256.6,264.1 260.0,265.0 263.2,266.6 266.7,268.7 270.0,271.0 272.9,272.0 276.0,273.9 278.8,275.2 281.7,278.1 284.2,278.1 287.0,280.7 290.0,282.0 292.6,283.8 295.4,285.4 298.8,287.0 301.6,288.2 304.5,290.0 307.5,293.1 310.0,294.0 312.9,295.7 314.8,297.1 317.7,299.0 320.3,300.0 322.5,302.9 325.0,304.0 327.6,306.2 329.7,307.8 332.3,311.1 335.3,312.2 337.8,314.1 340.0,317.0 342.1,320.3 343.9,322.9 346.1,324.1 347.9,327.3 350.0,330.0 350.8,333.4 351.7,336.5 352.8,338.3 354.0,341.4 355.0,345.0 355.5,348.6 356.0,351.3 356.0,354.6 356.5,358.0 357.0,361.0 357.6,363.9 358.3,366.7 358.4,371.2 359.0,374.2 359.8,376.8 360.0,380.0 359.9,382.4 360.6,385.4 360.4,389.1 360.3,391.9 360.5,395.1 360.9,397.8 360.8,400.8 361.0,403.4 361.1,407.6 361.5,410.6 361.3,413.7 361.8,416.5 362.0,419.3 361.9,422.4 362.0,424.6 362.0,427.8 362.6,430.7 363.0,433.3 362.9,436.6 363.0,440.0 363.1,443.5 363.3,445.4 363.0,449.3 363.6,451.5 363.4,455.6 363.6,458.1 363.7,461.4 363.8,463.7 363.9,467.4 363.5,469.9 363.4,474.0 363.8,476.1 363.6,479.2 363.6,482.4 363.7,486.6 364.3,489.4 364.0,492.0" stroke="#ac44ac"/>
<polyline points="367.0,492.0 367.1,488.9 367.6,486.6 367.7,483.0 367.3,479.9 368.1,477.1 367.5,473.8 367.9,469.6 368.7,467.5 368.6,463.4 368.8,461.9 369.1,458.4 369.1,455.4 369.0,451.6 369.4,449.2 369.6,445.1 369.9,442.5 370.0,438.5 370.2,436.8 369.6,433.8 370.0,430.0 369.9,426.3 370.3,423.2 370.6,421.4 370.9,417.9 370.8,414.9 371.4,411.6 371.8,408.8 371.4,404.2 371.8,402.5 371.7,398.9 372.4,396.2 371.8,392.5 372.0,388.6 372.9,386.1 372.9,383.0 373.0,380.0 373.1,376.4 373.5,374.5 374.0,370.4 373.8,367.2 374.7,364.5 375.0,362.2 374.8,358.8 375.0,356.0 375.5,351.9 376.5,349.0 376.1,346.9 376.8,343.9 377.0,340.0 377.6,337.0 378.9,334.0 379.6,330.4 380.1,327.3 380.5,324.0 380.9,322.9 381.9,319.6 382.4,315.7 382.9,313.1 384.0,310.0 385.4,306.7 385.9,304.2 387.4,300.3 387.6,296.9 388.9,294.2 390.0,290.0 391.5,287.8 393.5,284.8 395.0,282.9 397.1,280.0 398.2,278.5 400.0,275.0 401.6,273.1 404.2,269.9 405.9,267.7 408.4,265.1 410.0,262.0 412.2,258.7 413.8,256.6 416.4,255.7 417.6,252.8 420.0,249.3 421.8,248.4 424.1,245.1 425.9,243.2 427.9,240.1 429.5,237.7 431.7,235.5 433.3,233.0 434.6,230.9 436.7,227.7 438.0,224.0 440.0,222.0 442.1,220.3 444.4,217.0 445.8,215.0 448.6,211.9 450.6,209.6 452.2,207.0 454.3,205.3 457.0,204.1 458.6,200.8 461.1,199.5 464.7,198.3 467.0,197.8 470.0,197.0 473.6,195.5 477.9,195.0 478.0,191.4 478.9,187.8 478.4,185.8 478.9,181.6 479.0,185.5 479.4,188.6 479.2,190.5 479.8,194.3 479.7,197.9 480.1,200.4 480.0,204.0 479.9,201.8 480.0,197.5 480.1,194.4 480.3,190.9 480.3,188.9 479.9,186.6 479.8,182.1 479.6,179.7 480.3,176.9 479.9,174.1 479.6,170.1 480.1,168.3 480.1,164.7 480.3,161.1 480.4,158.7 479.8,155.0 480.3,151.8 479.7,149.8 480.0,146.1 480.0,143.0" stroke="#7d7d14"/>
<polyline points="480.0,143.0 477.1,143.3 473.9,142.9 470.8,142.9 468.0,143.3 465.1,143.1 462.0,143.1 458.9,143.3 456.1,143.3 452.9,143.1 450.1,143.0 447.2,143.3 444.1,143.3 441.1,143.3 437.9,143.2 435.1,143.1 431.9,142.7 429.0,143.3 425.9,142.8 422.9,142.7 420.1,143.4 417.1,142.9 414.1,142.7 411.1,142.9 407.8,143.1 404.9,142.8 401.8,143.0 399.0,143.2 395.8,143.3 392.8,142.8 390.0,143.0 388.1,146.4 386.0,150.0 384.9,153.1 383.9,156.2 382.9,159.3 382.1,162.0 381.0,165.0 379.8,168.6 378.8,171.8 378.0,174.9 377.1,178.8 376.0,182.0 375.0,185.3 374.0,188.9 372.9,192.5 372.2,195.8 371.0,199.0 368.0,202.0 367.6,198.5 367.0,194.9 366.2,191.5 365.6,188.5 365.0,185.0 364.1,181.6 362.9,178.1 362.0,174.8 360.9,171.9 360.0,168.3 359.0,165.0 357.7,162.0 356.5,158.5 355.5,155.7 354.5,152.5 353.3,149.5 352.0,146.0 350.3,142.9 348.3,139.3 346.6,136.5 345.0,133.0 342.1,130.6 339.0,128.0" stroke="#7d7d14"/>
<polyline points="339.0,128.0 338.3,130.8 337.8,135.3 339.2,137.4 337.0,140.2 337.7,144.9 337.0,149.7 337.5,151.2 335.7,153.1 335.4,159.0 335.6,163.1 335.3,164.4 335.7,168.8 334.4,172.2 333.3,172.6 333.8,177.5 332.7,179.7 331.9,185.6 332.8,189.0 333.0,190.3 331.6,193.8 329.6,196.4 326.7,199.9 324.1,201.7 319.4,198.8 316.9,201.1 312.7,199.0 309.6,196.2 308.1,191.2 307.8,191.2 305.9,185.2 304.7,184.0 303.0,181.7 299.0,178.4 297.4,176.7 293.9,179.4 290.0,179.1 286.3,179.1 282.7,177.9 278.8,176.5 277.0,176.6 272.9,176.7 268.8,175.4 265.6,172.2 263.1,171.8 258.2,173.0 254.9,175.4 252.0,177.9 248.5,179.1 245.1,176.2 242.4,174.9 238.7,175.5 235.4,175.5 232.5,177.2 228.9,176.7 225.3,177.0 223.2,176.0 219.0,177.4 216.7,175.5 213.6,172.1 209.6,174.2 206.9,170.6 203.9,168.3 202.0,166.9 200.1,165.3 197.4,162.1 194.7,158.3 191.3,159.7 189.8,164.4" stroke="#7d7d14"/>
<polyline points="189.8,164.4 191.5,167.2 192.8,169.4 194.4,172.6 196.0,175.0 196.3,178.1 196.9,181.1 197.3,183.9 197.5,186.7 198.0,190.0 198.1,186.3 198.1,183.1 197.9,179.7 198.0,176.0 200.9,177.3 203.9,178.7 207.1,180.0 210.0,181.0 212.9,182.4 216.0,183.6 219.0,184.7 222.0,186.0 225.0,187.0 227.7,188.1 230.6,189.5 233.3,190.7 236.2,192.0 239.0,193.9 241.7,194.8 244.5,196.2 247.2,197.4 250.0,199.0 253.0,200.6 255.7,201.9 258.6,203.9 261.5,205.0 264.2,206.7 267.2,208.2 270.0,210.0 272.9,212.1 275.8,213.4 278.4,215.3 281.5,217.5 284.3,219.3 287.1,221.2 290.0,223.0 292.5,225.1 295.1,226.9 297.6,228.8 300.1,230.2 302.6,232.6 305.0,234.5 307.4,236.4 310.0,238.0 312.5,240.5 314.9,242.5 317.5,244.9 319.9,247.3 322.6,249.8 325.0,252.0 327.3,254.5 329.4,257.0 331.6,258.9 333.6,261.3 335.7,263.5 338.0,266.0 340.1,269.0 341.9,271.7 344.1,274.5 346.0,277.0 347.5,279.8 348.7,282.8 350.1,285.5 351.6,288.2 353.0,291.0 354.0,294.0 354.7,297.4 355.5,300.8 356.3,303.9 357.2,307.1 358.0,310.0 358.3,312.8 358.7,316.2 359.1,318.9 359.7,322.3 359.9,325.0 360.5,328.1 360.9,331.2 361.1,333.9 361.5,337.1 362.0,340.0 362.1,342.9 362.4,346.1 362.5,349.1 362.6,352.1 362.7,354.7 362.8,357.7 363.0,360.8 363.1,364.0 363.5,367.1 363.4,370.2 363.6,372.8 363.7,375.9 364.0,379.0 364.2,381.8 364.4,384.9 364.5,387.7 364.6,390.8 364.8,394.2 364.9,396.9 365.0,400.0 364.9,402.9 365.3,405.9 365.2,409.3 365.3,412.1 365.2,415.1 365.5,418.3 365.5,421.5 365.5,424.3 365.5,427.8 365.6,430.9 365.7,433.9 365.7,437.0 365.8,439.8 365.9,442.7 365.9,446.2 366.0,449.0 366.2,452.0 366.1,455.0 366.2,458.2 366.4,461.3 366.5,464.1 366.5,467.7 366.5,470.3 366.6,473.4 366.7,476.8 366.6,479.5 366.8,482.6 366.8,485.8 366.8,488.7 367.0,492.0" stroke="#7d7d14"/>
<polyline points="367.0,492.0 367.0,488.9 367.7,486.1 366.9,482.4 367.7,480.1 368.0,477.9 368.1,473.2 368.3,471.0 367.7,467.3 368.5,464.4 367.8,461.5 368.8,458.9 368.7,455.1 368.6,452.6 368.5,450.3 368.7,446.2 369.5,444.0 368.8,440.0 369.4,438.0 368.9,434.9 369.7,432.1 369.4,429.0 369.9,426.3 369.5,423.6 370.0,420.0 370.7,417.4 370.9,413.5 371.2,410.0 370.7,407.7 371.7,403.5 371.2,400.3 371.7,397.4 371.7,395.5 372.3,392.8 372.4,389.1 372.3,386.5 372.7,382.5 373.3,380.3 373.5,377.2 373.9,372.6 374.0,370.0 374.7,366.3 375.2,363.7 374.8,361.5 375.2,357.3 375.6,354.7 375.6,351.0 376.1,348.8 376.3,345.2 376.9,341.8 377.6,339.2 377.5,335.1 377.8,333.4 378.2,328.6 378.9,326.4 379.6,322.2 379.6,320.0 380.2,316.4 381.4,314.1 382.1,312.0 383.2,309.1 384.4,305.0 385.2,302.3 385.2,300.4 386.1,295.7 387.2,293.3 388.7,291.6 389.1,288.0 390.0,285.0 391.3,282.7 392.1,279.2 392.6,275.7 394.1,273.4 395.2,271.1 396.4,266.8 396.5,265.3 398.0,260.9 398.9,258.6 401.3,256.0 403.1,254.1 405.6,252.6 407.4,250.6 410.0,248.0 412.5,245.9 414.8,244.4 416.5,241.7 419.5,240.1 421.8,236.9 424.0,235.5 426.7,234.0 428.1,231.2 431.1,228.6 432.7,228.0 435.0,225.0 437.8,221.9 440.1,219.7 442.4,218.0 444.3,214.4 447.1,212.4 448.0,208.8 449.1,205.5 450.7,202.9 452.0,200.0 452.3,197.0 453.8,193.8 454.0,190.9 454.8,187.3 457.6,184.3 460.5,181.5 463.6,179.4 466.3,177.7 470.0,178.6 474.3,178.4 477.9,177.7 480.9,175.1 483.7,172.0 483.9,169.7 483.4,166.1 483.5,161.8 484.0,159.3 484.0,156.6 483.8,152.1 483.2,149.5 483.9,145.8 483.7,143.0" stroke="#1c1c70"/>
<polyline points="483.7,143.0 480.5,142.6 477.5,143.2 474.3,142.8 471.4,143.2 468.6,142.6 465.2,143.3 462.5,142.7 459.2,143.0 456.1,142.9 453.1,142.8 449.9,142.7 446.9,142.7 444.0,143.2 440.8,143.2 438.0,142.9 434.8,142.8 431.9,143.0 428.5,142.7 425.7,142.9 422.7,142.8 419.7,143.2 416.3,143.1 413.3,143.2 410.5,143.2 407.2,142.7 404.3,143.1 401.1,142.8 398.2,142.7 395.2,142.8 392.0,142.9 389.0,143.0 387.3,146.5 385.5,149.8 384.0,153.0 382.9,156.2 382.1,160.0 381.0,163.5 379.9,166.4 379.0,170.0 378.2,172.8 377.2,175.8 376.6,179.3 375.8,182.4 375.0,184.8 374.0,188.0 372.7,191.7 371.3,195.1 370.1,198.1 369.0,202.0 367.8,198.2 366.7,195.3 365.2,191.3 364.0,188.0 362.8,184.9 362.0,181.6 361.1,178.6 360.1,175.1 358.8,172.2 358.0,168.9 357.0,166.0 355.9,162.9 354.6,160.3 353.7,157.6 352.4,154.5 351.5,152.1 350.2,148.5 349.0,146.0 347.5,142.9 345.9,139.1 344.7,136.6 343.0,133.0 340.4,130.5 338.0,128.0" stroke="#1c1c70"/>
<polyline points="338.0,128.0 336.5,130.8 334.1,135.3 333.0,138.0 331.6,140.8 329.0,143.7 327.2,148.2 326.0,150.0 323.4,151.9 322.3,154.1 319.5,156.4 318.0,160.0 315.6,163.1 314.4,165.1 311.6,169.7 310.0,172.0 308.0,174.3 305.6,176.7 304.8,179.1 302.2,182.8 298.7,184.7 296.2,186.3 292.5,186.5 289.2,188.5 286.1,187.6 282.7,188.9 279.0,191.3 275.4,192.6 273.3,188.6 270.5,186.5 266.8,187.3 263.5,186.4 260.7,185.2 256.8,187.0 253.3,190.1 250.9,195.0 248.8,197.4 247.9,199.0 245.9,201.9 243.6,204.8 239.5,207.9 236.2,209.7 232.3,209.5 228.9,210.9 226.3,209.9 224.5,207.4 220.9,206.1 219.1,203.6 216.8,202.6 214.8,199.1 211.8,197.5 209.2,198.0 205.4,196.5 202.5,196.1 199.6,196.2 196.2,194.8 192.7,196.5 189.8,195.0" stroke="#1c1c70"/>
<polyline points="189.8,195.0 190.5,198.6 191.6,202.1 192.0,205.0 194.5,207.3 197.6,209.1 200.0,210.0 202.7,212.1 205.3,212.9 207.6,214.8 210.3,216.1 212.5,218.1 215.0,220.0 218.3,221.4 221.3,223.8 224.3,224.2 227.4,226.8 230.0,228.0 233.5,229.5 236.4,231.0 240.2,231.6 243.6,232.9 245.9,235.2 248.7,237.1 250.6,238.1 253.3,240.2 256.2,240.8 259.3,241.9 262.8,243.4 265.6,245.1 268.1,245.8 271.6,247.4 274.2,249.1 277.4,251.3 280.0,252.0 283.2,254.2 287.0,256.0 290.0,258.0 292.8,260.1 294.8,262.1 297.6,262.6 300.0,265.0 302.6,267.3 305.0,268.5 307.4,270.9 310.0,272.0 312.6,273.8 314.9,276.3 317.9,279.1 320.0,281.0 323.7,279.7 328.0,277.0 331.0,272.0 331.1,275.4 331.9,278.8 332.4,281.1 333.0,285.0 334.4,288.5 336.0,290.8 337.0,294.4 338.8,296.6 340.0,300.0 341.7,303.6 342.8,305.5 344.5,309.3 345.5,311.1 347.0,314.7 348.3,317.2 350.0,320.0 351.1,323.1 352.0,326.4 353.8,328.7 354.8,330.9 356.0,334.4 357.1,337.7 358.0,340.0 358.3,343.8 358.5,345.4 359.2,349.9 359.9,353.0 359.9,356.1 360.4,357.9 360.8,362.0 361.0,364.8 361.3,367.3 361.8,370.8 362.2,373.2 362.2,376.7 363.0,380.0 363.3,383.4 363.1,385.7 363.4,388.6 363.6,392.8 363.4,395.4 364.0,398.7 364.1,401.6 363.9,404.9 364.5,406.7 364.7,410.3 364.1,412.8 364.8,416.8 364.4,419.5 364.9,423.4 364.8,426.1 364.9,428.2 364.9,431.6 365.4,434.5 365.2,437.4 365.3,440.4 365.6,443.9 365.6,446.9 366.0,450.0 366.0,453.8 366.1,456.7 366.2,458.5 366.4,461.4 366.1,464.3 366.6,468.7 366.4,470.8 366.5,473.8 366.8,476.8 366.4,480.6 366.8,482.2 367.1,486.4 366.8,489.2 367.0,492.0" stroke="#1c1c70"/>
<polyline points="367.0,492.0 367.5,488.8 367.1,485.6 367.3,483.3 367.6,480.9 367.1,476.7 367.9,474.6 367.7,471.4 367.5,468.9 367.8,464.8 367.5,461.2 368.3,459.6 367.5,455.6 368.1,453.0 368.0,450.8 368.1,447.1 368.8,444.3 368.4,440.7 368.4,438.2 368.9,434.5 368.5,431.8 368.6,429.8 368.9,425.6 368.7,423.6 369.0,420.0 368.8,417.4 368.8,413.4 369.0,411.6 369.2,407.5 369.3,404.5 370.1,402.4 370.5,399.9 370.3,396.8 369.9,393.9 370.4,389.4 370.9,387.7 370.7,383.2 371.3,381.5 371.2,379.0 370.8,374.1 371.0,371.0 371.8,369.3 371.3,365.3 371.5,363.2 372.0,360.0 372.5,357.9 372.4,354.8 372.8,350.6 372.9,347.2 373.9,345.6 374.0,340.9 373.7,337.8 374.2,335.9 374.2,332.4 375.1,328.3 375.2,326.7 375.6,323.0 375.8,320.0 376.8,317.2 376.9,313.8 378.1,311.7 378.7,308.1 378.5,304.4 379.4,302.4 379.6,299.6 381.0,296.0 380.9,293.6 382.0,290.0 382.8,287.4 383.9,284.5 384.6,282.0 386.1,279.0 386.7,274.8 387.4,271.8 388.8,269.8 389.3,266.3 391.1,263.9 392.8,260.6 393.7,257.7 395.2,254.4 396.6,251.8 398.5,247.6 400.0,245.0 402.1,241.5 403.8,240.2 404.7,237.5 406.9,235.2 408.5,231.7 410.2,228.9 412.1,225.6 413.5,223.1 414.6,220.5 416.8,218.5 418.0,216.0 420.7,212.7 423.1,210.6 424.9,207.5 427.8,204.7 429.3,200.7 430.6,197.4 431.6,195.3 433.0,191.0 435.6,188.2 437.4,183.5 440.7,182.2 444.5,181.1 447.5,179.9 450.9,177.7 453.9,177.8 457.0,175.4 460.4,174.7 463.4,173.8 466.3,173.9 470.4,173.7 473.7,172.6 477.0,173.0 480.0,173.7 482.5,175.5 485.6,175.8 488.7,176.5 492.4,178.0 496.8,177.0 500.0,178.7 503.2,178.4 506.6,178.7 509.6,178.0 509.4,175.7 509.3,170.9 509.9,167.7 509.3,165.3 509.4,161.4 510.0,158.9 509.9,155.2 510.0,152.0 510.0,149.6 510.1,146.7 509.6,143.0" stroke="#720c12"/>
<polyline points="509.6,143.0 506.6,143.0 503.7,143.0 500.3,143.3 497.6,143.1 494.5,142.8 491.3,143.3 488.5,143.3 485.1,143.1 482.3,142.9 479.1,142.7 476.1,143.0 473.0,142.9 470.1,143.2 467.1,142.7 464.2,142.9 461.1,143.4 457.8,143.1 455.1,142.9 451.9,142.9 448.6,142.8 445.6,142.8 442.8,143.1 439.9,143.1 436.6,143.4 433.7,143.0 430.7,143.1 427.5,143.1 424.4,143.4 421.3,143.4 418.2,142.6 415.4,142.8 412.3,142.7 409.4,143.1 406.3,143.3 403.4,143.1 400.2,142.6 396.9,142.9 394.3,142.9 391.1,142.6 388.0,143.0 386.0,146.8 384.0,150.0 383.0,153.5 381.8,156.3 380.9,160.0 380.0,163.0 379.0,166.7 378.3,170.1 377.6,173.1 377.0,176.5 376.0,180.0 375.4,182.7 374.8,186.4 373.8,189.2 373.2,191.7 372.6,195.1 372.0,198.0 370.7,201.9 369.0,205.0 368.4,202.1 367.6,198.7 366.8,196.0 366.0,193.0 364.9,190.2 363.9,186.4 362.9,183.2 362.0,180.6 360.9,177.2 360.0,174.0 358.7,170.9 357.3,167.7 355.8,164.1 354.6,161.1 353.4,158.0 352.0,155.0 350.9,152.0 349.4,149.4 348.4,146.5 347.3,143.6 346.0,141.0 343.6,138.3 341.0,135.0" stroke="#720c12"/>
<polyline points="341.0,135.0 340.4,138.7 340.5,142.7 339.0,145.0 338.9,149.8 337.8,153.0 337.2,157.5 337.0,160.3 336.5,164.4 336.2,168.7 335.5,169.8 335.2,173.4 335.6,177.6 334.6,179.3 333.8,182.4 334.0,186.5 330.8,188.7 326.7,190.1 323.0,190.4 319.6,190.1 316.9,190.1 313.0,187.3 309.6,186.5 308.7,184.3 307.2,180.1 306.1,178.1 304.7,175.5 301.3,176.8 297.4,180.3 294.7,181.1 290.5,184.2 287.6,186.5 283.9,187.0 281.3,191.0 277.8,191.3 272.9,190.1 270.3,187.1 268.3,184.5 265.6,182.8 263.0,180.4 260.6,176.2 258.2,174.2 253.3,173.0 250.3,174.9 249.1,177.7 245.5,178.5 243.6,180.3 239.9,177.1 236.2,175.5 234.0,173.0 231.7,170.0 228.9,168.1 226.2,169.3 222.3,168.0 219.1,168.4 216.1,170.3 212.7,171.4 209.3,170.6 205.5,171.4 203.2,170.0 199.3,170.0 196.4,172.0 192.9,172.1 189.8,171.8" stroke="#720c12"/>
<polyline points="189.8,171.8 205.0,179.0 220.0,187.0 240.0,196.0 260.0,205.0 275.0,214.0 290.0,227.0 310.0,242.0 325.0,255.0 340.0,275.0 348.0,290.0 355.0,310.0 360.0,330.0 363.0,350.0 365.0,400.0 366.0,492.0" stroke="#720c12"/>
<polyline points="368.0,492.0 368.0,489.4 368.1,487.0 368.4,482.0 368.2,480.5 369.1,477.3 368.5,474.7 369.2,470.2 369.0,468.3 368.8,464.1 369.3,462.7 370.1,458.6 370.1,456.6 370.2,453.2 370.0,450.0 370.8,447.0 371.1,443.5 370.7,440.0 371.3,436.3 371.5,433.4 372.0,430.0 372.4,426.4 372.5,424.0 373.1,420.8 373.6,417.4 373.8,414.6 374.4,412.4 374.7,409.0 374.8,406.0 375.3,403.9 376.3,399.8 376.8,396.8 378.0,394.6 378.5,391.5 379.0,387.9 380.0,385.0 381.2,381.7 382.6,379.6 384.3,375.6 385.2,373.8 387.0,370.6 388.4,367.7 389.6,364.4 390.6,360.3 391.9,357.0 393.8,354.7 394.7,352.4 396.1,347.7 397.0,345.0 399.3,341.8 402.2,340.7 404.4,337.8 406.3,334.6 408.0,331.9 410.3,329.7 412.0,326.0 414.8,324.7 416.8,321.8 419.3,320.0 422.0,318.6 424.8,314.6 428.0,313.0 430.8,312.2 434.4,309.3 437.0,308.0 438.9,305.5 439.9,300.9 441.8,298.0 443.0,295.0 443.8,292.5 445.3,288.2 446.6,284.6 447.2,281.6 448.9,278.5 449.4,274.2 450.0,272.4 450.6,269.0 451.5,264.7 452.0,262.0 452.2,259.1 453.5,255.0 453.8,252.9 454.8,248.9 458.1,247.5 460.6,247.1 463.0,244.5 465.0,240.8 467.3,239.3 469.9,236.3 472.1,233.6 475.0,231.1 478.4,229.6 481.8,227.8 482.9,225.4 484.0,222.3 485.4,218.9 486.7,215.1 488.1,210.8 489.5,208.5 492.8,207.4 495.6,205.0" stroke="#f0157a"/>
<polyline points="495.6,205.0 495.6,143.0 495.6,205.0 501.5,210.0 501.5,143.0" stroke="#f0157a"/>
<polyline points="501.5,143.0 504.5,143.3 507.6,143.5 510.5,142.9 513.6,143.1 517.0,143.3 520.0,142.9 523.1,142.6 526.0,143.3 529.1,143.5 532.0,143.0 535.1,142.5 538.2,142.6 541.4,142.9 544.5,142.8 547.7,143.0 550.9,142.7 553.7,143.0 556.7,143.4 559.7,143.4 562.9,142.8 566.1,143.1 569.0,142.6 572.4,142.9 575.0,143.2 578.3,142.8 581.3,143.3 584.3,142.9 587.7,142.9 590.5,142.7 593.7,143.2 596.7,142.9 599.7,143.3 602.8,143.3 605.9,143.2 609.0,143.0 605.7,142.7 603.2,143.2 600.0,143.0 596.9,142.7 593.8,143.1 591.0,142.8 588.0,142.6 584.9,142.7 581.8,142.8 578.9,142.6 575.8,143.1 572.6,142.8 569.9,143.0 566.8,143.3 563.8,142.7 560.7,143.3 557.7,143.3 554.6,142.9 551.9,143.3 548.7,142.6 545.7,142.5 542.8,143.5 539.7,142.8 536.8,142.7 533.7,143.0 530.3,143.4 527.5,143.3 524.6,143.0 521.7,142.7 518.7,142.8 515.2,142.8 512.2,142.6 509.5,142.6 506.2,142.8 503.3,143.4 500.6,143.4 497.6,142.9 494.5,142.8 491.5,143.3 488.4,142.7 485.1,143.4 482.3,143.1 479.4,142.6 476.3,143.0 473.4,143.0 470.1,143.5 467.1,143.2 464.3,142.7 461.3,142.9 458.0,142.7 455.3,142.9 452.1,143.0 448.8,143.3 446.2,143.4 443.0,142.7 440.0,143.2 437.1,142.9 434.0,143.0 430.7,143.1 427.5,143.8 424.0,144.6 420.6,144.7 417.2,146.2 414.1,147.5 410.9,148.5 408.1,150.2 405.8,152.3 403.2,154.3 400.6,156.3 397.9,158.1 395.5,160.1 393.7,163.5 392.3,166.6 390.9,169.4 389.4,172.0 387.8,175.5 386.5,178.2 385.1,181.5 383.5,184.4 382.0,187.0 380.8,190.3 379.9,192.9 378.3,196.2 377.4,199.0 376.2,202.5 375.4,206.1 374.7,208.6 373.9,212.3 373.2,215.5 372.7,218.7 372.0,222.0 371.9,225.5 371.6,228.8 371.6,231.0 371.8,234.7 371.6,237.6 371.6,240.8 371.5,243.9 371.4,247.5 371.2,250.5 370.9,253.8 371.2,256.5 371.0,260.0 371.0,263.2 370.8,266.3 371.1,268.6 370.8,271.6 370.8,274.6 370.8,277.8 370.7,281.0 370.7,284.3 370.9,286.6 370.6,289.5 370.6,292.6 370.8,296.3 370.9,298.7 370.4,302.3 370.6,305.4 370.5,307.8 370.4,311.4 370.6,313.9 370.5,317.3 370.5,320.0 370.6,323.1 370.3,326.1 370.6,329.1 370.5,332.4 370.4,335.5 370.3,338.5 370.5,341.1 370.3,345.0 370.6,347.2 370.4,350.9 370.5,353.8 370.1,356.7 370.4,360.2 370.1,363.2 370.3,366.3 370.0,369.2 370.1,372.4 370.1,375.0 370.2,378.2 370.3,381.3 370.1,384.9 369.9,387.9 369.8,391.2 369.8,394.1 370.0,396.6 370.0,400.0 369.9,403.1 369.9,405.8 370.0,409.0 370.2,412.1 369.9,415.1 370.1,418.2 370.0,421.8 369.8,424.8 369.7,427.2 369.6,430.6 370.0,433.4 369.8,437.1 369.7,439.5 369.8,442.9 370.0,446.4 369.6,449.1 369.7,451.7 369.7,455.6 369.6,458.4 369.8,460.9 369.9,464.0 369.5,467.7 369.4,470.4 369.4,473.6 369.3,476.3 369.4,479.3 369.3,482.5 369.5,485.5 369.7,488.9 369.5,492.0" stroke="#f0157a"/>
<polyline points="364.0,492.0 363.9,488.7 364.2,485.5 364.2,482.5 364.3,479.7 364.2,477.0 364.0,473.3 364.3,470.6 364.4,467.3 364.3,464.1 364.3,461.2 364.4,458.1 364.3,455.3 364.3,452.4 364.5,448.8 364.3,446.0 364.5,443.1 364.5,439.8 364.8,436.6 364.8,434.0 364.9,431.0 364.6,427.9 364.8,424.3 365.0,421.6 364.9,418.4 364.7,415.6 364.7,412.1 364.9,409.0 364.9,406.3 364.8,403.2 365.0,400.0 364.9,396.9 365.1,394.0 364.9,390.5 365.3,387.6 365.2,384.5 365.3,381.7 365.3,378.4 365.3,375.4 365.2,372.7 365.6,369.5 365.6,366.1 365.6,362.9 365.6,360.2 365.7,357.2 365.7,353.7 365.7,350.7 365.6,347.6 365.8,344.9 365.9,341.7 365.6,338.2 365.8,335.2 365.8,332.0 365.7,329.4 365.8,326.4 365.9,323.4 366.0,320.0 366.0,316.8 366.1,313.6 366.1,310.9 366.0,308.3 366.2,304.6 366.5,301.8 366.3,298.6 366.2,296.2 366.5,293.0 366.4,289.8 366.7,286.9 366.8,284.3 366.5,281.3 366.5,278.2 366.9,275.2 366.8,272.3 366.7,269.0 366.8,265.9 366.8,263.2 367.0,260.0 367.1,257.1 367.2,253.9 367.4,251.0 367.3,247.6 367.6,244.5 367.3,241.4 367.6,238.8 367.7,235.5 367.9,232.5 367.7,229.2 368.0,226.0 367.8,223.2 368.0,220.0 367.8,216.4 367.5,213.5 367.0,209.5 366.9,206.3 366.6,203.0 365.3,200.4 363.7,197.2 362.3,193.7 360.8,190.9 360.0,187.4 358.7,184.5 357.7,181.3 356.9,178.5 355.9,175.2 355.0,171.7 354.2,168.6 353.0,165.1 352.1,162.0 351.3,158.8 350.2,155.7 349.3,152.4 348.0,149.1 346.2,145.8 344.5,142.8 343.1,140.3 341.6,137.0 338.0,134.0" stroke="#f0157a"/>
<polyline points="338.0,134.0 336.9,137.9 335.7,139.8 334.0,142.4 332.3,143.7 330.2,146.7 328.7,148.7 326.7,152.2 324.3,153.9 321.8,156.0 319.4,158.3 315.2,160.7 312.0,162.0 309.9,159.8 307.1,157.1 304.2,153.7 302.2,149.8 299.0,152.2 294.9,152.2 291.9,150.7 288.8,151.8 285.1,151.0 281.5,154.7 281.1,159.0 281.6,162.2 280.8,164.7 280.8,167.2 281.1,171.3 280.4,174.3 281.0,177.6 280.8,180.9 280.2,184.0 280.4,186.3 279.4,191.1 279.3,195.5 278.7,197.8 278.4,201.4 277.8,204.8 275.0,205.6 271.1,203.8 269.1,202.8 265.6,203.6 262.9,202.1 259.6,203.7 256.1,202.3 253.3,202.3 249.9,203.4 247.2,203.6 247.0,207.1 246.6,210.3 247.1,214.0 246.9,216.0 246.2,219.6 246.0,223.1 242.2,222.6 238.7,220.7 235.0,220.0 232.5,220.1 228.9,218.2 225.1,216.0 222.4,216.0 219.1,213.3 215.0,215.4 211.8,215.8 208.0,214.7 204.4,213.3 201.7,211.5 197.7,210.9 194.7,210.9 190.6,209.2 187.3,208.5 187.5,212.3 186.8,216.5 187.3,218.6 187.3,223.1" stroke="#f0157a"/>
<polyline points="187.3,223.1 191.3,224.9 194.7,225.6 197.7,226.7 201.4,226.0 204.4,226.8 207.1,228.6 210.8,228.6 213.8,230.9 216.7,231.7 219.9,233.2 223.2,233.3 226.1,235.1 228.9,235.4 231.8,236.3 235.1,237.2 238.1,236.8 241.1,237.8 243.4,240.3 246.0,242.7 248.5,244.7 251.9,245.2 254.6,247.4 256.9,249.0 260.0,250.0 262.7,251.4 264.7,253.2 267.7,255.2 270.3,256.5 272.2,258.5 275.3,260.0 277.2,262.7 280.0,264.0 282.5,265.7 285.4,266.5 288.7,268.9 291.4,269.6 293.9,270.9 296.9,273.0 300.0,274.0 303.0,275.9 305.7,277.2 308.3,278.1 311.3,279.4 314.5,280.7 317.0,282.2 320.0,284.0 322.8,286.1 325.0,287.5 327.8,290.2 330.0,291.4 332.8,292.8 335.0,295.0 336.5,296.9 338.3,300.4 339.7,302.4 342.1,305.0 343.2,308.0 345.0,310.0 346.7,313.0 347.5,316.6 349.4,320.3 350.7,322.5 352.0,326.0 352.7,328.8 353.3,332.3 354.3,336.1 355.0,338.6 355.7,341.3 356.0,345.0 356.7,348.3 357.0,351.1 357.5,353.6 357.8,358.0 357.8,361.2 358.0,364.2 358.6,366.7 359.0,370.0 358.9,373.6 359.4,375.6 359.8,378.9 359.4,382.4 359.7,386.2 360.1,389.0 359.8,391.2 359.7,395.0 360.2,398.0 360.6,401.1 360.3,404.2 360.2,408.2 360.7,410.7 360.7,413.4 360.7,416.9 361.0,420.0 361.0,423.8 361.1,425.5 360.8,428.5 361.0,432.5 361.5,434.6 361.5,437.9 361.3,441.1 361.0,443.3 361.5,447.3 361.3,450.7 361.7,452.7 361.2,456.1 361.7,458.6 361.2,462.0 361.3,465.4 361.8,467.6 361.7,470.6 361.5,473.5 362.0,476.9 362.0,479.8 362.1,483.2 362.0,485.8 362.0,488.5 362.0,492.0" stroke="#f0157a"/>
</g>
<line x1="111" y1="119.8" x2="324" y2="119.8" stroke="#000" stroke-width="4.5" stroke-dasharray="5 4.8"/>
<line x1="111" y1="166" x2="190" y2="166" stroke="#000" stroke-width="4.5" stroke-dasharray="5 4.8"/>
<line x1="111" y1="201" x2="190" y2="201" stroke="#000" stroke-width="4.5" stroke-dasharray="5 4.8"/>
<line x1="111" y1="234.7" x2="190" y2="234.7" stroke="#000" stroke-width="4.5" stroke-dasharray="5 4.8"/>
<line x1="498" y1="177.4" x2="665" y2="177.4" stroke="#000" stroke-width="4.5" stroke-dasharray="5 4.8"/>
<line x1="479" y1="225.4" x2="665" y2="225.4" stroke="#000" stroke-width="4.5" stroke-dasharray="5 4.8"/>
<line x1="480" y1="258.9" x2="665" y2="258.9" stroke="#000" stroke-width="4.5" stroke-dasharray="5 4.8"/>
<text x="108.5" y="113.3" font-family="Liberation Sans" font-size="25" text-anchor="start" fill="#000" >0.0022</text>
<text x="114.5" y="161.8" font-family="Liberation Sans" font-size="24.5">3.90E<tspan dx="0.5" dy="-8.6" font-size="14.5">-4</tspan></text>
<text x="109.5" y="188.6" font-family="Liberation Sans" font-size="24.5">1.44E<tspan dx="0.5" dy="-8.6" font-size="14.5">-4</tspan></text>
<text x="107.5" y="226.7" font-family="Liberation Sans" font-size="24.5">5.04E<tspan dx="0.5" dy="-8.6" font-size="14.5">-5</tspan></text>
<text x="573" y="172" font-family="Liberation Sans" font-size="26.2">3.49E<tspan dx="2" dy="-10" font-size="17">-4</tspan></text>
<text x="573.5" y="212.2" font-family="Liberation Sans" font-size="26.2">8.38E<tspan dx="2" dy="-10" font-size="17">-5</tspan></text>
<text x="574.5" y="252.6" font-family="Liberation Sans" font-size="26.2">1.64E<tspan dx="2" dy="-10" font-size="17">-5</tspan></text>
<line x1="490.0" y1="267.7" x2="536.0" y2="267.7" stroke="#000000" stroke-width="5" stroke-linecap="round"/>
<text x="542.5" y="273.9" font-family="Liberation Sans" font-weight="bold" font-size="18.5" text-anchor="start" fill="#000" word-spacing="2">Pristine</text>
<line x1="490.0" y1="293.1" x2="536.0" y2="293.1" stroke="#e41a1a" stroke-width="5" stroke-linecap="round"/>
<text x="542.5" y="299.3" font-family="Liberation Sans" font-weight="bold" font-size="18.5" text-anchor="start" fill="#000" word-spacing="2">after 1 day</text>
<line x1="490.0" y1="318.6" x2="536.0" y2="318.6" stroke="#2436b0" stroke-width="5" stroke-linecap="round"/>
<text x="542.5" y="324.8" font-family="Liberation Sans" font-weight="bold" font-size="18.5" text-anchor="start" fill="#000" word-spacing="2">after 2 days</text>
<line x1="490.0" y1="344.0" x2="536.0" y2="344.0" stroke="#0f7570" stroke-width="5" stroke-linecap="round"/>
<text x="542.5" y="350.2" font-family="Liberation Sans" font-weight="bold" font-size="18.5" text-anchor="start" fill="#000" word-spacing="2">after 3 days</text>
<line x1="490.0" y1="369.4" x2="536.0" y2="369.4" stroke="#ac44ac" stroke-width="5" stroke-linecap="round"/>
<text x="542.5" y="375.6" font-family="Liberation Sans" font-weight="bold" font-size="18.5" text-anchor="start" fill="#000" word-spacing="2">after 4 days</text>
<line x1="490.0" y1="394.9" x2="536.0" y2="394.9" stroke="#7d7d14" stroke-width="5" stroke-linecap="round"/>
<text x="542.5" y="401.1" font-family="Liberation Sans" font-weight="bold" font-size="18.5" text-anchor="start" fill="#000" word-spacing="2">after 5 days</text>
<line x1="490.0" y1="420.3" x2="536.0" y2="420.3" stroke="#1c1c70" stroke-width="5" stroke-linecap="round"/>
<text x="542.5" y="426.5" font-family="Liberation Sans" font-weight="bold" font-size="18.5" text-anchor="start" fill="#000" word-spacing="2">after 10days</text>
<line x1="490.0" y1="445.7" x2="536.0" y2="445.7" stroke="#720c12" stroke-width="5" stroke-linecap="round"/>
<text x="542.5" y="451.9" font-family="Liberation Sans" font-weight="bold" font-size="18.5" text-anchor="start" fill="#000" word-spacing="2">after 20days</text>
<line x1="490.0" y1="471.1" x2="536.0" y2="471.1" stroke="#f0157a" stroke-width="5" stroke-linecap="round"/>
<text x="542.5" y="477.3" font-family="Liberation Sans" font-weight="bold" font-size="18.5" text-anchor="start" fill="#000" word-spacing="2">after 30days</text></svg>
</body></html>
